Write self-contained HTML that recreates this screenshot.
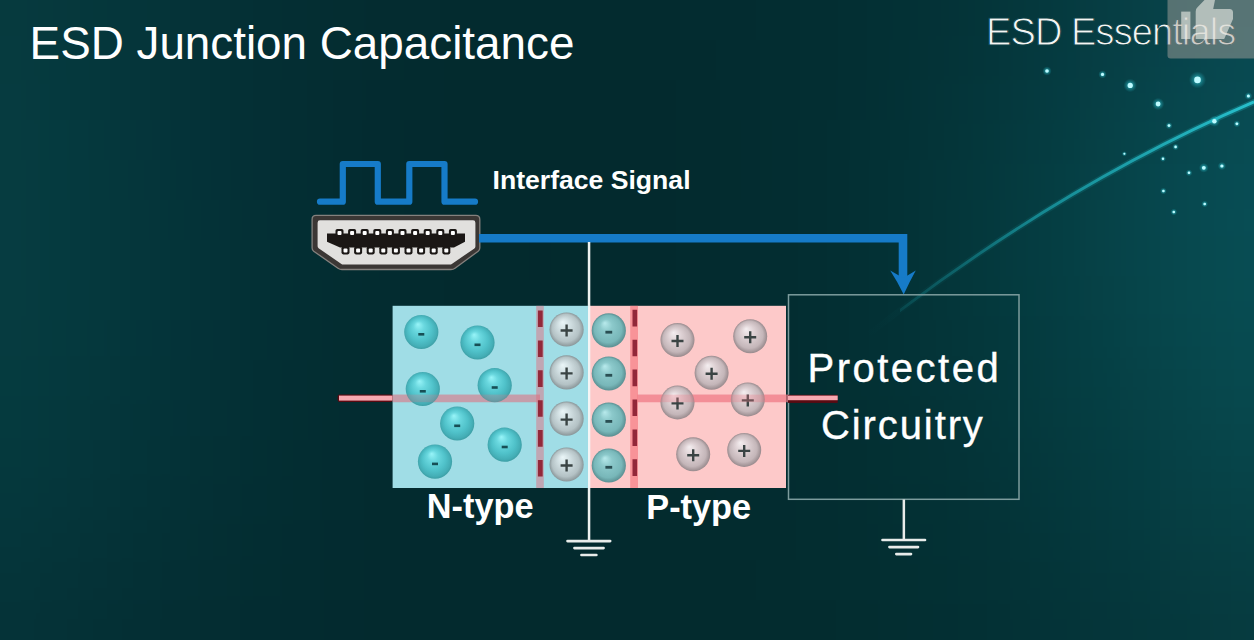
<!DOCTYPE html>
<html><head><meta charset="utf-8">
<style>
html,body{margin:0;padding:0;background:#062a2e;}
body{width:1254px;height:640px;overflow:hidden;position:relative;}
svg{position:absolute;left:0;top:0;display:block;}
text{font-family:"Liberation Sans",sans-serif;}
</style></head><body>
<svg width="1254" height="640" viewBox="0 0 1254 640">
<defs>
  <linearGradient id="bgH" x1="0" y1="0" x2="1" y2="0">
    <stop offset="0" stop-color="#0a3f43"/>
    <stop offset="0.12" stop-color="#07363a"/>
    <stop offset="0.3" stop-color="#042b2e"/>
    <stop offset="0.5" stop-color="#03252a"/>
    <stop offset="0.68" stop-color="#04282c"/>
    <stop offset="0.85" stop-color="#073a3f"/>
    <stop offset="1" stop-color="#0a464b"/>
  </linearGradient>
  <radialGradient id="glowTR" cx="1254" cy="90" r="360" gradientUnits="userSpaceOnUse">
    <stop offset="0" stop-color="#0d5058" stop-opacity="0.55"/>
    <stop offset="1" stop-color="#0d5058" stop-opacity="0"/>
  </radialGradient>
  <radialGradient id="glowBR" cx="1254" cy="640" r="330" gradientUnits="userSpaceOnUse">
    <stop offset="0" stop-color="#0b4449" stop-opacity="0.4"/>
    <stop offset="1" stop-color="#0b4449" stop-opacity="0"/>
  </radialGradient>
  <radialGradient id="glowL" cx="0" cy="330" r="260" gradientUnits="userSpaceOnUse" gradientTransform="translate(0 330) scale(1 1.6) translate(0 -330)">
    <stop offset="0" stop-color="#0c4649" stop-opacity="0.5"/>
    <stop offset="1" stop-color="#0c4649" stop-opacity="0"/>
  </radialGradient>
  <radialGradient id="darkC" cx="620" cy="330" r="420" gradientUnits="userSpaceOnUse">
    <stop offset="0" stop-color="#021e22" stop-opacity="0.35"/>
    <stop offset="1" stop-color="#021e22" stop-opacity="0"/>
  </radialGradient>
  <radialGradient id="elec" cx="0.5" cy="0.5" r="0.52" fx="0.4" fy="0.27">
    <stop offset="0" stop-color="#98f4f8"/>
    <stop offset="0.3" stop-color="#6ad8df"/>
    <stop offset="0.65" stop-color="#50c2ca"/>
    <stop offset="0.88" stop-color="#44aeb6"/>
    <stop offset="1" stop-color="#3a9aa0"/>
  </radialGradient>
  <radialGradient id="elecP" cx="0.5" cy="0.5" r="0.5" fx="0.38" fy="0.28">
    <stop offset="0" stop-color="#b8eaec"/>
    <stop offset="0.35" stop-color="#8cc9cb"/>
    <stop offset="0.8" stop-color="#78b7b9"/>
    <stop offset="1" stop-color="#5a8f92"/>
  </radialGradient>
  <radialGradient id="ion" cx="0.5" cy="0.5" r="0.5" fx="0.38" fy="0.28">
    <stop offset="0" stop-color="#eaf6f8"/>
    <stop offset="0.4" stop-color="#cfdde0"/>
    <stop offset="0.8" stop-color="#b4c2c5"/>
    <stop offset="1" stop-color="#8a9699"/>
  </radialGradient>
  <radialGradient id="hole" cx="0.5" cy="0.5" r="0.5" fx="0.38" fy="0.28">
    <stop offset="0" stop-color="#f4eef0"/>
    <stop offset="0.4" stop-color="#ddd0d3"/>
    <stop offset="0.8" stop-color="#c4b6b9"/>
    <stop offset="1" stop-color="#988a8d"/>
  </radialGradient>
  <linearGradient id="arcG" x1="866" y1="336" x2="1254" y2="102" gradientUnits="userSpaceOnUse">
    <stop offset="0" stop-color="#15858e" stop-opacity="0"/>
    <stop offset="0.15" stop-color="#15858e" stop-opacity="0.35"/>
    <stop offset="0.45" stop-color="#1a9aa4" stop-opacity="0.75"/>
    <stop offset="1" stop-color="#28c0cc" stop-opacity="1"/>
  </linearGradient>
  <radialGradient id="glow" cx="0.5" cy="0.5" r="0.5">
    <stop offset="0" stop-color="#5ee8f0" stop-opacity="0.9"/>
    <stop offset="0.5" stop-color="#2cc0cc" stop-opacity="0.42"/>
    <stop offset="1" stop-color="#20a8b4" stop-opacity="0"/>
  </radialGradient>
  <linearGradient id="arcG2" x1="866" y1="336" x2="1254" y2="102" gradientUnits="userSpaceOnUse">
    <stop offset="0" stop-color="#18a0aa" stop-opacity="0"/>
    <stop offset="0.4" stop-color="#18a0aa" stop-opacity="0.12"/>
    <stop offset="1" stop-color="#20b8c4" stop-opacity="0.3"/>
  </linearGradient>
</defs>

<!-- background -->
<filter id="bgblur" color-interpolation-filters="sRGB" x="-300" y="-300" width="1854" height="1240" filterUnits="userSpaceOnUse"><feGaussianBlur stdDeviation="28"/></filter>
<g filter="url(#bgblur)" shape-rendering="crispEdges"><rect x="-240" y="-240" width="40" height="40" fill="#063a3e"/><rect x="-200" y="-240" width="40" height="40" fill="#063a3e"/><rect x="-160" y="-240" width="40" height="40" fill="#063a3e"/><rect x="-120" y="-240" width="40" height="40" fill="#063a3e"/><rect x="-80" y="-240" width="40" height="40" fill="#063a3e"/><rect x="-40" y="-240" width="40" height="40" fill="#063a3e"/><rect x="0" y="-240" width="40" height="40" fill="#063a3e"/><rect x="40" y="-240" width="40" height="40" fill="#06383d"/><rect x="80" y="-240" width="40" height="40" fill="#05363b"/><rect x="120" y="-240" width="40" height="40" fill="#05353a"/><rect x="160" y="-240" width="40" height="40" fill="#053338"/><rect x="200" y="-240" width="40" height="40" fill="#053136"/><rect x="240" y="-240" width="40" height="40" fill="#043034"/><rect x="280" y="-240" width="40" height="40" fill="#042e33"/><rect x="320" y="-240" width="40" height="40" fill="#042d32"/><rect x="360" y="-240" width="40" height="40" fill="#042c31"/><rect x="400" y="-240" width="40" height="40" fill="#042c30"/><rect x="440" y="-240" width="40" height="40" fill="#032c2f"/><rect x="480" y="-240" width="40" height="40" fill="#032b2f"/><rect x="520" y="-240" width="40" height="40" fill="#032b2f"/><rect x="560" y="-240" width="40" height="40" fill="#032b2f"/><rect x="600" y="-240" width="40" height="40" fill="#032c2f"/><rect x="640" y="-240" width="40" height="40" fill="#032c2f"/><rect x="680" y="-240" width="40" height="40" fill="#032c30"/><rect x="720" y="-240" width="40" height="40" fill="#032d30"/><rect x="760" y="-240" width="40" height="40" fill="#032d31"/><rect x="800" y="-240" width="40" height="40" fill="#032e32"/><rect x="840" y="-240" width="40" height="40" fill="#032f33"/><rect x="880" y="-240" width="40" height="40" fill="#043035"/><rect x="920" y="-240" width="40" height="40" fill="#043237"/><rect x="960" y="-240" width="40" height="40" fill="#043439"/><rect x="1000" y="-240" width="40" height="40" fill="#05373c"/><rect x="1040" y="-240" width="40" height="40" fill="#05393f"/><rect x="1080" y="-240" width="40" height="40" fill="#063c42"/><rect x="1120" y="-240" width="40" height="40" fill="#073f46"/><rect x="1160" y="-240" width="40" height="40" fill="#074249"/><rect x="1200" y="-240" width="40" height="40" fill="#08454d"/><rect x="1240" y="-240" width="40" height="40" fill="#08474f"/><rect x="1280" y="-240" width="40" height="40" fill="#08474f"/><rect x="1320" y="-240" width="40" height="40" fill="#08474f"/><rect x="1360" y="-240" width="40" height="40" fill="#08474f"/><rect x="1400" y="-240" width="40" height="40" fill="#08474f"/><rect x="1440" y="-240" width="40" height="40" fill="#08474f"/><rect x="1480" y="-240" width="40" height="40" fill="#08474f"/><rect x="-240" y="-200" width="40" height="40" fill="#063a3e"/><rect x="-200" y="-200" width="40" height="40" fill="#063a3e"/><rect x="-160" y="-200" width="40" height="40" fill="#063a3e"/><rect x="-120" y="-200" width="40" height="40" fill="#063a3e"/><rect x="-80" y="-200" width="40" height="40" fill="#063a3e"/><rect x="-40" y="-200" width="40" height="40" fill="#063a3e"/><rect x="0" y="-200" width="40" height="40" fill="#063a3e"/><rect x="40" y="-200" width="40" height="40" fill="#06383d"/><rect x="80" y="-200" width="40" height="40" fill="#05363b"/><rect x="120" y="-200" width="40" height="40" fill="#05353a"/><rect x="160" y="-200" width="40" height="40" fill="#053338"/><rect x="200" y="-200" width="40" height="40" fill="#053136"/><rect x="240" y="-200" width="40" height="40" fill="#043034"/><rect x="280" y="-200" width="40" height="40" fill="#042e33"/><rect x="320" y="-200" width="40" height="40" fill="#042d32"/><rect x="360" y="-200" width="40" height="40" fill="#042c31"/><rect x="400" y="-200" width="40" height="40" fill="#042c30"/><rect x="440" y="-200" width="40" height="40" fill="#032c2f"/><rect x="480" y="-200" width="40" height="40" fill="#032b2f"/><rect x="520" y="-200" width="40" height="40" fill="#032b2f"/><rect x="560" y="-200" width="40" height="40" fill="#032b2f"/><rect x="600" y="-200" width="40" height="40" fill="#032c2f"/><rect x="640" y="-200" width="40" height="40" fill="#032c2f"/><rect x="680" y="-200" width="40" height="40" fill="#032c30"/><rect x="720" y="-200" width="40" height="40" fill="#032d30"/><rect x="760" y="-200" width="40" height="40" fill="#032d31"/><rect x="800" y="-200" width="40" height="40" fill="#032e32"/><rect x="840" y="-200" width="40" height="40" fill="#032f33"/><rect x="880" y="-200" width="40" height="40" fill="#043035"/><rect x="920" y="-200" width="40" height="40" fill="#043237"/><rect x="960" y="-200" width="40" height="40" fill="#043439"/><rect x="1000" y="-200" width="40" height="40" fill="#05373c"/><rect x="1040" y="-200" width="40" height="40" fill="#05393f"/><rect x="1080" y="-200" width="40" height="40" fill="#063c42"/><rect x="1120" y="-200" width="40" height="40" fill="#073f46"/><rect x="1160" y="-200" width="40" height="40" fill="#074249"/><rect x="1200" y="-200" width="40" height="40" fill="#08454d"/><rect x="1240" y="-200" width="40" height="40" fill="#08474f"/><rect x="1280" y="-200" width="40" height="40" fill="#08474f"/><rect x="1320" y="-200" width="40" height="40" fill="#08474f"/><rect x="1360" y="-200" width="40" height="40" fill="#08474f"/><rect x="1400" y="-200" width="40" height="40" fill="#08474f"/><rect x="1440" y="-200" width="40" height="40" fill="#08474f"/><rect x="1480" y="-200" width="40" height="40" fill="#08474f"/><rect x="-240" y="-160" width="40" height="40" fill="#063a3e"/><rect x="-200" y="-160" width="40" height="40" fill="#063a3e"/><rect x="-160" y="-160" width="40" height="40" fill="#063a3e"/><rect x="-120" y="-160" width="40" height="40" fill="#063a3e"/><rect x="-80" y="-160" width="40" height="40" fill="#063a3e"/><rect x="-40" y="-160" width="40" height="40" fill="#063a3e"/><rect x="0" y="-160" width="40" height="40" fill="#063a3e"/><rect x="40" y="-160" width="40" height="40" fill="#06383d"/><rect x="80" y="-160" width="40" height="40" fill="#05363b"/><rect x="120" y="-160" width="40" height="40" fill="#05353a"/><rect x="160" y="-160" width="40" height="40" fill="#053338"/><rect x="200" y="-160" width="40" height="40" fill="#053136"/><rect x="240" y="-160" width="40" height="40" fill="#043034"/><rect x="280" y="-160" width="40" height="40" fill="#042e33"/><rect x="320" y="-160" width="40" height="40" fill="#042d32"/><rect x="360" y="-160" width="40" height="40" fill="#042c31"/><rect x="400" y="-160" width="40" height="40" fill="#042c30"/><rect x="440" y="-160" width="40" height="40" fill="#032c2f"/><rect x="480" y="-160" width="40" height="40" fill="#032b2f"/><rect x="520" y="-160" width="40" height="40" fill="#032b2f"/><rect x="560" y="-160" width="40" height="40" fill="#032b2f"/><rect x="600" y="-160" width="40" height="40" fill="#032c2f"/><rect x="640" y="-160" width="40" height="40" fill="#032c2f"/><rect x="680" y="-160" width="40" height="40" fill="#032c30"/><rect x="720" y="-160" width="40" height="40" fill="#032d30"/><rect x="760" y="-160" width="40" height="40" fill="#032d31"/><rect x="800" y="-160" width="40" height="40" fill="#032e32"/><rect x="840" y="-160" width="40" height="40" fill="#032f33"/><rect x="880" y="-160" width="40" height="40" fill="#043035"/><rect x="920" y="-160" width="40" height="40" fill="#043237"/><rect x="960" y="-160" width="40" height="40" fill="#043439"/><rect x="1000" y="-160" width="40" height="40" fill="#05373c"/><rect x="1040" y="-160" width="40" height="40" fill="#05393f"/><rect x="1080" y="-160" width="40" height="40" fill="#063c42"/><rect x="1120" y="-160" width="40" height="40" fill="#073f46"/><rect x="1160" y="-160" width="40" height="40" fill="#074249"/><rect x="1200" y="-160" width="40" height="40" fill="#08454d"/><rect x="1240" y="-160" width="40" height="40" fill="#08474f"/><rect x="1280" y="-160" width="40" height="40" fill="#08474f"/><rect x="1320" y="-160" width="40" height="40" fill="#08474f"/><rect x="1360" y="-160" width="40" height="40" fill="#08474f"/><rect x="1400" y="-160" width="40" height="40" fill="#08474f"/><rect x="1440" y="-160" width="40" height="40" fill="#08474f"/><rect x="1480" y="-160" width="40" height="40" fill="#08474f"/><rect x="-240" y="-120" width="40" height="40" fill="#063a3e"/><rect x="-200" y="-120" width="40" height="40" fill="#063a3e"/><rect x="-160" y="-120" width="40" height="40" fill="#063a3e"/><rect x="-120" y="-120" width="40" height="40" fill="#063a3e"/><rect x="-80" y="-120" width="40" height="40" fill="#063a3e"/><rect x="-40" y="-120" width="40" height="40" fill="#063a3e"/><rect x="0" y="-120" width="40" height="40" fill="#063a3e"/><rect x="40" y="-120" width="40" height="40" fill="#06383d"/><rect x="80" y="-120" width="40" height="40" fill="#05363b"/><rect x="120" y="-120" width="40" height="40" fill="#05353a"/><rect x="160" y="-120" width="40" height="40" fill="#053338"/><rect x="200" y="-120" width="40" height="40" fill="#053136"/><rect x="240" y="-120" width="40" height="40" fill="#043034"/><rect x="280" y="-120" width="40" height="40" fill="#042e33"/><rect x="320" y="-120" width="40" height="40" fill="#042d32"/><rect x="360" y="-120" width="40" height="40" fill="#042c31"/><rect x="400" y="-120" width="40" height="40" fill="#042c30"/><rect x="440" y="-120" width="40" height="40" fill="#032c2f"/><rect x="480" y="-120" width="40" height="40" fill="#032b2f"/><rect x="520" y="-120" width="40" height="40" fill="#032b2f"/><rect x="560" y="-120" width="40" height="40" fill="#032b2f"/><rect x="600" y="-120" width="40" height="40" fill="#032c2f"/><rect x="640" y="-120" width="40" height="40" fill="#032c2f"/><rect x="680" y="-120" width="40" height="40" fill="#032c30"/><rect x="720" y="-120" width="40" height="40" fill="#032d30"/><rect x="760" y="-120" width="40" height="40" fill="#032d31"/><rect x="800" y="-120" width="40" height="40" fill="#032e32"/><rect x="840" y="-120" width="40" height="40" fill="#032f33"/><rect x="880" y="-120" width="40" height="40" fill="#043035"/><rect x="920" y="-120" width="40" height="40" fill="#043237"/><rect x="960" y="-120" width="40" height="40" fill="#043439"/><rect x="1000" y="-120" width="40" height="40" fill="#05373c"/><rect x="1040" y="-120" width="40" height="40" fill="#05393f"/><rect x="1080" y="-120" width="40" height="40" fill="#063c42"/><rect x="1120" y="-120" width="40" height="40" fill="#073f46"/><rect x="1160" y="-120" width="40" height="40" fill="#074249"/><rect x="1200" y="-120" width="40" height="40" fill="#08454d"/><rect x="1240" y="-120" width="40" height="40" fill="#08474f"/><rect x="1280" y="-120" width="40" height="40" fill="#08474f"/><rect x="1320" y="-120" width="40" height="40" fill="#08474f"/><rect x="1360" y="-120" width="40" height="40" fill="#08474f"/><rect x="1400" y="-120" width="40" height="40" fill="#08474f"/><rect x="1440" y="-120" width="40" height="40" fill="#08474f"/><rect x="1480" y="-120" width="40" height="40" fill="#08474f"/><rect x="-240" y="-80" width="40" height="40" fill="#063a3e"/><rect x="-200" y="-80" width="40" height="40" fill="#063a3e"/><rect x="-160" y="-80" width="40" height="40" fill="#063a3e"/><rect x="-120" y="-80" width="40" height="40" fill="#063a3e"/><rect x="-80" y="-80" width="40" height="40" fill="#063a3e"/><rect x="-40" y="-80" width="40" height="40" fill="#063a3e"/><rect x="0" y="-80" width="40" height="40" fill="#063a3e"/><rect x="40" y="-80" width="40" height="40" fill="#06383d"/><rect x="80" y="-80" width="40" height="40" fill="#05363b"/><rect x="120" y="-80" width="40" height="40" fill="#05353a"/><rect x="160" y="-80" width="40" height="40" fill="#053338"/><rect x="200" y="-80" width="40" height="40" fill="#053136"/><rect x="240" y="-80" width="40" height="40" fill="#043034"/><rect x="280" y="-80" width="40" height="40" fill="#042e33"/><rect x="320" y="-80" width="40" height="40" fill="#042d32"/><rect x="360" y="-80" width="40" height="40" fill="#042c31"/><rect x="400" y="-80" width="40" height="40" fill="#042c30"/><rect x="440" y="-80" width="40" height="40" fill="#032c2f"/><rect x="480" y="-80" width="40" height="40" fill="#032b2f"/><rect x="520" y="-80" width="40" height="40" fill="#032b2f"/><rect x="560" y="-80" width="40" height="40" fill="#032b2f"/><rect x="600" y="-80" width="40" height="40" fill="#032c2f"/><rect x="640" y="-80" width="40" height="40" fill="#032c2f"/><rect x="680" y="-80" width="40" height="40" fill="#032c30"/><rect x="720" y="-80" width="40" height="40" fill="#032d30"/><rect x="760" y="-80" width="40" height="40" fill="#032d31"/><rect x="800" y="-80" width="40" height="40" fill="#032e32"/><rect x="840" y="-80" width="40" height="40" fill="#032f33"/><rect x="880" y="-80" width="40" height="40" fill="#043035"/><rect x="920" y="-80" width="40" height="40" fill="#043237"/><rect x="960" y="-80" width="40" height="40" fill="#043439"/><rect x="1000" y="-80" width="40" height="40" fill="#05373c"/><rect x="1040" y="-80" width="40" height="40" fill="#05393f"/><rect x="1080" y="-80" width="40" height="40" fill="#063c42"/><rect x="1120" y="-80" width="40" height="40" fill="#073f46"/><rect x="1160" y="-80" width="40" height="40" fill="#074249"/><rect x="1200" y="-80" width="40" height="40" fill="#08454d"/><rect x="1240" y="-80" width="40" height="40" fill="#08474f"/><rect x="1280" y="-80" width="40" height="40" fill="#08474f"/><rect x="1320" y="-80" width="40" height="40" fill="#08474f"/><rect x="1360" y="-80" width="40" height="40" fill="#08474f"/><rect x="1400" y="-80" width="40" height="40" fill="#08474f"/><rect x="1440" y="-80" width="40" height="40" fill="#08474f"/><rect x="1480" y="-80" width="40" height="40" fill="#08474f"/><rect x="-240" y="-40" width="40" height="40" fill="#063a3e"/><rect x="-200" y="-40" width="40" height="40" fill="#063a3e"/><rect x="-160" y="-40" width="40" height="40" fill="#063a3e"/><rect x="-120" y="-40" width="40" height="40" fill="#063a3e"/><rect x="-80" y="-40" width="40" height="40" fill="#063a3e"/><rect x="-40" y="-40" width="40" height="40" fill="#063a3e"/><rect x="0" y="-40" width="40" height="40" fill="#063a3e"/><rect x="40" y="-40" width="40" height="40" fill="#06383d"/><rect x="80" y="-40" width="40" height="40" fill="#05363b"/><rect x="120" y="-40" width="40" height="40" fill="#05353a"/><rect x="160" y="-40" width="40" height="40" fill="#053338"/><rect x="200" y="-40" width="40" height="40" fill="#053136"/><rect x="240" y="-40" width="40" height="40" fill="#043034"/><rect x="280" y="-40" width="40" height="40" fill="#042e33"/><rect x="320" y="-40" width="40" height="40" fill="#042d32"/><rect x="360" y="-40" width="40" height="40" fill="#042c31"/><rect x="400" y="-40" width="40" height="40" fill="#042c30"/><rect x="440" y="-40" width="40" height="40" fill="#032c2f"/><rect x="480" y="-40" width="40" height="40" fill="#032b2f"/><rect x="520" y="-40" width="40" height="40" fill="#032b2f"/><rect x="560" y="-40" width="40" height="40" fill="#032b2f"/><rect x="600" y="-40" width="40" height="40" fill="#032c2f"/><rect x="640" y="-40" width="40" height="40" fill="#032c2f"/><rect x="680" y="-40" width="40" height="40" fill="#032c30"/><rect x="720" y="-40" width="40" height="40" fill="#032d30"/><rect x="760" y="-40" width="40" height="40" fill="#032d31"/><rect x="800" y="-40" width="40" height="40" fill="#032e32"/><rect x="840" y="-40" width="40" height="40" fill="#032f33"/><rect x="880" y="-40" width="40" height="40" fill="#043035"/><rect x="920" y="-40" width="40" height="40" fill="#043237"/><rect x="960" y="-40" width="40" height="40" fill="#043439"/><rect x="1000" y="-40" width="40" height="40" fill="#05373c"/><rect x="1040" y="-40" width="40" height="40" fill="#05393f"/><rect x="1080" y="-40" width="40" height="40" fill="#063c42"/><rect x="1120" y="-40" width="40" height="40" fill="#073f46"/><rect x="1160" y="-40" width="40" height="40" fill="#074249"/><rect x="1200" y="-40" width="40" height="40" fill="#08454d"/><rect x="1240" y="-40" width="40" height="40" fill="#08474f"/><rect x="1280" y="-40" width="40" height="40" fill="#08474f"/><rect x="1320" y="-40" width="40" height="40" fill="#08474f"/><rect x="1360" y="-40" width="40" height="40" fill="#08474f"/><rect x="1400" y="-40" width="40" height="40" fill="#08474f"/><rect x="1440" y="-40" width="40" height="40" fill="#08474f"/><rect x="1480" y="-40" width="40" height="40" fill="#08474f"/><rect x="-240" y="0" width="40" height="40" fill="#063b3f"/><rect x="-200" y="0" width="40" height="40" fill="#063b3f"/><rect x="-160" y="0" width="40" height="40" fill="#063b3f"/><rect x="-120" y="0" width="40" height="40" fill="#063b3f"/><rect x="-80" y="0" width="40" height="40" fill="#063b3f"/><rect x="-40" y="0" width="40" height="40" fill="#063b3f"/><rect x="0" y="0" width="40" height="40" fill="#063a3e"/><rect x="40" y="0" width="40" height="40" fill="#06383d"/><rect x="80" y="0" width="40" height="40" fill="#05373b"/><rect x="120" y="0" width="40" height="40" fill="#05353a"/><rect x="160" y="0" width="40" height="40" fill="#053338"/><rect x="200" y="0" width="40" height="40" fill="#053136"/><rect x="240" y="0" width="40" height="40" fill="#042f34"/><rect x="280" y="0" width="40" height="40" fill="#042e33"/><rect x="320" y="0" width="40" height="40" fill="#042d31"/><rect x="360" y="0" width="40" height="40" fill="#042c30"/><rect x="400" y="0" width="40" height="40" fill="#042c30"/><rect x="440" y="0" width="40" height="40" fill="#032b2f"/><rect x="480" y="0" width="40" height="40" fill="#032b2f"/><rect x="520" y="0" width="40" height="40" fill="#032b2f"/><rect x="560" y="0" width="40" height="40" fill="#032b2f"/><rect x="600" y="0" width="40" height="40" fill="#032b2f"/><rect x="640" y="0" width="40" height="40" fill="#032b2f"/><rect x="680" y="0" width="40" height="40" fill="#032c30"/><rect x="720" y="0" width="40" height="40" fill="#032c30"/><rect x="760" y="0" width="40" height="40" fill="#032d31"/><rect x="800" y="0" width="40" height="40" fill="#032e32"/><rect x="840" y="0" width="40" height="40" fill="#032f33"/><rect x="880" y="0" width="40" height="40" fill="#033135"/><rect x="920" y="0" width="40" height="40" fill="#043237"/><rect x="960" y="0" width="40" height="40" fill="#043539"/><rect x="1000" y="0" width="40" height="40" fill="#05373c"/><rect x="1040" y="0" width="40" height="40" fill="#053a3f"/><rect x="1080" y="0" width="40" height="40" fill="#063d43"/><rect x="1120" y="0" width="40" height="40" fill="#074046"/><rect x="1160" y="0" width="40" height="40" fill="#07434a"/><rect x="1200" y="0" width="40" height="40" fill="#08464d"/><rect x="1240" y="0" width="40" height="40" fill="#084850"/><rect x="1280" y="0" width="40" height="40" fill="#084850"/><rect x="1320" y="0" width="40" height="40" fill="#084850"/><rect x="1360" y="0" width="40" height="40" fill="#084850"/><rect x="1400" y="0" width="40" height="40" fill="#084850"/><rect x="1440" y="0" width="40" height="40" fill="#084850"/><rect x="1480" y="0" width="40" height="40" fill="#084850"/><rect x="-240" y="40" width="40" height="40" fill="#063b3f"/><rect x="-200" y="40" width="40" height="40" fill="#063b3f"/><rect x="-160" y="40" width="40" height="40" fill="#063b3f"/><rect x="-120" y="40" width="40" height="40" fill="#063b3f"/><rect x="-80" y="40" width="40" height="40" fill="#063b3f"/><rect x="-40" y="40" width="40" height="40" fill="#063b3f"/><rect x="0" y="40" width="40" height="40" fill="#063b3f"/><rect x="40" y="40" width="40" height="40" fill="#05393e"/><rect x="80" y="40" width="40" height="40" fill="#05373c"/><rect x="120" y="40" width="40" height="40" fill="#05353a"/><rect x="160" y="40" width="40" height="40" fill="#053338"/><rect x="200" y="40" width="40" height="40" fill="#043136"/><rect x="240" y="40" width="40" height="40" fill="#042f34"/><rect x="280" y="40" width="40" height="40" fill="#042e33"/><rect x="320" y="40" width="40" height="40" fill="#042d31"/><rect x="360" y="40" width="40" height="40" fill="#042c30"/><rect x="400" y="40" width="40" height="40" fill="#032b2f"/><rect x="440" y="40" width="40" height="40" fill="#032b2e"/><rect x="480" y="40" width="40" height="40" fill="#032a2e"/><rect x="520" y="40" width="40" height="40" fill="#032a2e"/><rect x="560" y="40" width="40" height="40" fill="#032a2e"/><rect x="600" y="40" width="40" height="40" fill="#032b2e"/><rect x="640" y="40" width="40" height="40" fill="#032b2f"/><rect x="680" y="40" width="40" height="40" fill="#032b2f"/><rect x="720" y="40" width="40" height="40" fill="#032c30"/><rect x="760" y="40" width="40" height="40" fill="#032d31"/><rect x="800" y="40" width="40" height="40" fill="#032e32"/><rect x="840" y="40" width="40" height="40" fill="#032f33"/><rect x="880" y="40" width="40" height="40" fill="#033135"/><rect x="920" y="40" width="40" height="40" fill="#043337"/><rect x="960" y="40" width="40" height="40" fill="#04353a"/><rect x="1000" y="40" width="40" height="40" fill="#05383d"/><rect x="1040" y="40" width="40" height="40" fill="#053b41"/><rect x="1080" y="40" width="40" height="40" fill="#063e44"/><rect x="1120" y="40" width="40" height="40" fill="#074148"/><rect x="1160" y="40" width="40" height="40" fill="#07444c"/><rect x="1200" y="40" width="40" height="40" fill="#08484f"/><rect x="1240" y="40" width="40" height="40" fill="#084a52"/><rect x="1280" y="40" width="40" height="40" fill="#084a52"/><rect x="1320" y="40" width="40" height="40" fill="#084a52"/><rect x="1360" y="40" width="40" height="40" fill="#084a52"/><rect x="1400" y="40" width="40" height="40" fill="#084a52"/><rect x="1440" y="40" width="40" height="40" fill="#084a52"/><rect x="1480" y="40" width="40" height="40" fill="#084a52"/><rect x="-240" y="80" width="40" height="40" fill="#063c40"/><rect x="-200" y="80" width="40" height="40" fill="#063c40"/><rect x="-160" y="80" width="40" height="40" fill="#063c40"/><rect x="-120" y="80" width="40" height="40" fill="#063c40"/><rect x="-80" y="80" width="40" height="40" fill="#063c40"/><rect x="-40" y="80" width="40" height="40" fill="#063c40"/><rect x="0" y="80" width="40" height="40" fill="#063b40"/><rect x="40" y="80" width="40" height="40" fill="#05393e"/><rect x="80" y="80" width="40" height="40" fill="#05373c"/><rect x="120" y="80" width="40" height="40" fill="#05353a"/><rect x="160" y="80" width="40" height="40" fill="#053338"/><rect x="200" y="80" width="40" height="40" fill="#043136"/><rect x="240" y="80" width="40" height="40" fill="#042f34"/><rect x="280" y="80" width="40" height="40" fill="#042e33"/><rect x="320" y="80" width="40" height="40" fill="#042c31"/><rect x="360" y="80" width="40" height="40" fill="#032b30"/><rect x="400" y="80" width="40" height="40" fill="#032b2f"/><rect x="440" y="80" width="40" height="40" fill="#032a2e"/><rect x="480" y="80" width="40" height="40" fill="#032a2e"/><rect x="520" y="80" width="40" height="40" fill="#032a2e"/><rect x="560" y="80" width="40" height="40" fill="#032a2e"/><rect x="600" y="80" width="40" height="40" fill="#032a2e"/><rect x="640" y="80" width="40" height="40" fill="#032a2e"/><rect x="680" y="80" width="40" height="40" fill="#032b2f"/><rect x="720" y="80" width="40" height="40" fill="#032c30"/><rect x="760" y="80" width="40" height="40" fill="#032d31"/><rect x="800" y="80" width="40" height="40" fill="#032e32"/><rect x="840" y="80" width="40" height="40" fill="#032f33"/><rect x="880" y="80" width="40" height="40" fill="#033136"/><rect x="920" y="80" width="40" height="40" fill="#043438"/><rect x="960" y="80" width="40" height="40" fill="#04363b"/><rect x="1000" y="80" width="40" height="40" fill="#05393e"/><rect x="1040" y="80" width="40" height="40" fill="#053c42"/><rect x="1080" y="80" width="40" height="40" fill="#063f45"/><rect x="1120" y="80" width="40" height="40" fill="#064349"/><rect x="1160" y="80" width="40" height="40" fill="#07464d"/><rect x="1200" y="80" width="40" height="40" fill="#084950"/><rect x="1240" y="80" width="40" height="40" fill="#084b53"/><rect x="1280" y="80" width="40" height="40" fill="#084b53"/><rect x="1320" y="80" width="40" height="40" fill="#084b53"/><rect x="1360" y="80" width="40" height="40" fill="#084b53"/><rect x="1400" y="80" width="40" height="40" fill="#084b53"/><rect x="1440" y="80" width="40" height="40" fill="#084b53"/><rect x="1480" y="80" width="40" height="40" fill="#084b53"/><rect x="-240" y="120" width="40" height="40" fill="#063c41"/><rect x="-200" y="120" width="40" height="40" fill="#063c41"/><rect x="-160" y="120" width="40" height="40" fill="#063c41"/><rect x="-120" y="120" width="40" height="40" fill="#063c41"/><rect x="-80" y="120" width="40" height="40" fill="#063c41"/><rect x="-40" y="120" width="40" height="40" fill="#063c41"/><rect x="0" y="120" width="40" height="40" fill="#063c40"/><rect x="40" y="120" width="40" height="40" fill="#053a3f"/><rect x="80" y="120" width="40" height="40" fill="#05383d"/><rect x="120" y="120" width="40" height="40" fill="#05353b"/><rect x="160" y="120" width="40" height="40" fill="#043339"/><rect x="200" y="120" width="40" height="40" fill="#043137"/><rect x="240" y="120" width="40" height="40" fill="#042f35"/><rect x="280" y="120" width="40" height="40" fill="#042e33"/><rect x="320" y="120" width="40" height="40" fill="#032c31"/><rect x="360" y="120" width="40" height="40" fill="#032b30"/><rect x="400" y="120" width="40" height="40" fill="#032a2f"/><rect x="440" y="120" width="40" height="40" fill="#032a2e"/><rect x="480" y="120" width="40" height="40" fill="#032a2e"/><rect x="520" y="120" width="40" height="40" fill="#032a2d"/><rect x="560" y="120" width="40" height="40" fill="#032a2d"/><rect x="600" y="120" width="40" height="40" fill="#032a2e"/><rect x="640" y="120" width="40" height="40" fill="#032a2e"/><rect x="680" y="120" width="40" height="40" fill="#032b2f"/><rect x="720" y="120" width="40" height="40" fill="#032c2f"/><rect x="760" y="120" width="40" height="40" fill="#032d31"/><rect x="800" y="120" width="40" height="40" fill="#032e32"/><rect x="840" y="120" width="40" height="40" fill="#033034"/><rect x="880" y="120" width="40" height="40" fill="#033236"/><rect x="920" y="120" width="40" height="40" fill="#043438"/><rect x="960" y="120" width="40" height="40" fill="#04373b"/><rect x="1000" y="120" width="40" height="40" fill="#053a3f"/><rect x="1040" y="120" width="40" height="40" fill="#053d42"/><rect x="1080" y="120" width="40" height="40" fill="#064146"/><rect x="1120" y="120" width="40" height="40" fill="#06444a"/><rect x="1160" y="120" width="40" height="40" fill="#07474e"/><rect x="1200" y="120" width="40" height="40" fill="#084a51"/><rect x="1240" y="120" width="40" height="40" fill="#084d54"/><rect x="1280" y="120" width="40" height="40" fill="#084d54"/><rect x="1320" y="120" width="40" height="40" fill="#084d54"/><rect x="1360" y="120" width="40" height="40" fill="#084d54"/><rect x="1400" y="120" width="40" height="40" fill="#084d54"/><rect x="1440" y="120" width="40" height="40" fill="#084d54"/><rect x="1480" y="120" width="40" height="40" fill="#084d54"/><rect x="-240" y="160" width="40" height="40" fill="#063d41"/><rect x="-200" y="160" width="40" height="40" fill="#063d41"/><rect x="-160" y="160" width="40" height="40" fill="#063d41"/><rect x="-120" y="160" width="40" height="40" fill="#063d41"/><rect x="-80" y="160" width="40" height="40" fill="#063d41"/><rect x="-40" y="160" width="40" height="40" fill="#063d41"/><rect x="0" y="160" width="40" height="40" fill="#063c40"/><rect x="40" y="160" width="40" height="40" fill="#053a3f"/><rect x="80" y="160" width="40" height="40" fill="#05383d"/><rect x="120" y="160" width="40" height="40" fill="#05363b"/><rect x="160" y="160" width="40" height="40" fill="#043339"/><rect x="200" y="160" width="40" height="40" fill="#043137"/><rect x="240" y="160" width="40" height="40" fill="#042f35"/><rect x="280" y="160" width="40" height="40" fill="#032e33"/><rect x="320" y="160" width="40" height="40" fill="#032c31"/><rect x="360" y="160" width="40" height="40" fill="#032b30"/><rect x="400" y="160" width="40" height="40" fill="#032a2f"/><rect x="440" y="160" width="40" height="40" fill="#032a2e"/><rect x="480" y="160" width="40" height="40" fill="#032a2e"/><rect x="520" y="160" width="40" height="40" fill="#03292d"/><rect x="560" y="160" width="40" height="40" fill="#03292d"/><rect x="600" y="160" width="40" height="40" fill="#032a2e"/><rect x="640" y="160" width="40" height="40" fill="#032a2e"/><rect x="680" y="160" width="40" height="40" fill="#032b2f"/><rect x="720" y="160" width="40" height="40" fill="#032c2f"/><rect x="760" y="160" width="40" height="40" fill="#032d31"/><rect x="800" y="160" width="40" height="40" fill="#032e32"/><rect x="840" y="160" width="40" height="40" fill="#033034"/><rect x="880" y="160" width="40" height="40" fill="#033236"/><rect x="920" y="160" width="40" height="40" fill="#043539"/><rect x="960" y="160" width="40" height="40" fill="#04373c"/><rect x="1000" y="160" width="40" height="40" fill="#053b3f"/><rect x="1040" y="160" width="40" height="40" fill="#053e43"/><rect x="1080" y="160" width="40" height="40" fill="#064147"/><rect x="1120" y="160" width="40" height="40" fill="#06454b"/><rect x="1160" y="160" width="40" height="40" fill="#07484f"/><rect x="1200" y="160" width="40" height="40" fill="#074b52"/><rect x="1240" y="160" width="40" height="40" fill="#084d55"/><rect x="1280" y="160" width="40" height="40" fill="#084d55"/><rect x="1320" y="160" width="40" height="40" fill="#084d55"/><rect x="1360" y="160" width="40" height="40" fill="#084d55"/><rect x="1400" y="160" width="40" height="40" fill="#084d55"/><rect x="1440" y="160" width="40" height="40" fill="#084d55"/><rect x="1480" y="160" width="40" height="40" fill="#084d55"/><rect x="-240" y="200" width="40" height="40" fill="#063d41"/><rect x="-200" y="200" width="40" height="40" fill="#063d41"/><rect x="-160" y="200" width="40" height="40" fill="#063d41"/><rect x="-120" y="200" width="40" height="40" fill="#063d41"/><rect x="-80" y="200" width="40" height="40" fill="#063d41"/><rect x="-40" y="200" width="40" height="40" fill="#063d41"/><rect x="0" y="200" width="40" height="40" fill="#063c41"/><rect x="40" y="200" width="40" height="40" fill="#053a3f"/><rect x="80" y="200" width="40" height="40" fill="#05383d"/><rect x="120" y="200" width="40" height="40" fill="#05363b"/><rect x="160" y="200" width="40" height="40" fill="#043439"/><rect x="200" y="200" width="40" height="40" fill="#043137"/><rect x="240" y="200" width="40" height="40" fill="#043035"/><rect x="280" y="200" width="40" height="40" fill="#032e33"/><rect x="320" y="200" width="40" height="40" fill="#032c31"/><rect x="360" y="200" width="40" height="40" fill="#032b30"/><rect x="400" y="200" width="40" height="40" fill="#032a2f"/><rect x="440" y="200" width="40" height="40" fill="#032a2e"/><rect x="480" y="200" width="40" height="40" fill="#032a2e"/><rect x="520" y="200" width="40" height="40" fill="#03292d"/><rect x="560" y="200" width="40" height="40" fill="#03292d"/><rect x="600" y="200" width="40" height="40" fill="#032a2e"/><rect x="640" y="200" width="40" height="40" fill="#032a2e"/><rect x="680" y="200" width="40" height="40" fill="#032b2f"/><rect x="720" y="200" width="40" height="40" fill="#032c30"/><rect x="760" y="200" width="40" height="40" fill="#032d31"/><rect x="800" y="200" width="40" height="40" fill="#032e32"/><rect x="840" y="200" width="40" height="40" fill="#033034"/><rect x="880" y="200" width="40" height="40" fill="#033236"/><rect x="920" y="200" width="40" height="40" fill="#043539"/><rect x="960" y="200" width="40" height="40" fill="#04383c"/><rect x="1000" y="200" width="40" height="40" fill="#053b40"/><rect x="1040" y="200" width="40" height="40" fill="#053e43"/><rect x="1080" y="200" width="40" height="40" fill="#064247"/><rect x="1120" y="200" width="40" height="40" fill="#06454b"/><rect x="1160" y="200" width="40" height="40" fill="#07484f"/><rect x="1200" y="200" width="40" height="40" fill="#074b52"/><rect x="1240" y="200" width="40" height="40" fill="#084e55"/><rect x="1280" y="200" width="40" height="40" fill="#084e55"/><rect x="1320" y="200" width="40" height="40" fill="#084e55"/><rect x="1360" y="200" width="40" height="40" fill="#084e55"/><rect x="1400" y="200" width="40" height="40" fill="#084e55"/><rect x="1440" y="200" width="40" height="40" fill="#084e55"/><rect x="1480" y="200" width="40" height="40" fill="#084e55"/><rect x="-240" y="240" width="40" height="40" fill="#063d41"/><rect x="-200" y="240" width="40" height="40" fill="#063d41"/><rect x="-160" y="240" width="40" height="40" fill="#063d41"/><rect x="-120" y="240" width="40" height="40" fill="#063d41"/><rect x="-80" y="240" width="40" height="40" fill="#063d41"/><rect x="-40" y="240" width="40" height="40" fill="#063d41"/><rect x="0" y="240" width="40" height="40" fill="#063c41"/><rect x="40" y="240" width="40" height="40" fill="#053a3f"/><rect x="80" y="240" width="40" height="40" fill="#05383d"/><rect x="120" y="240" width="40" height="40" fill="#05363b"/><rect x="160" y="240" width="40" height="40" fill="#043439"/><rect x="200" y="240" width="40" height="40" fill="#043237"/><rect x="240" y="240" width="40" height="40" fill="#043035"/><rect x="280" y="240" width="40" height="40" fill="#032e33"/><rect x="320" y="240" width="40" height="40" fill="#032d31"/><rect x="360" y="240" width="40" height="40" fill="#032b30"/><rect x="400" y="240" width="40" height="40" fill="#032b2f"/><rect x="440" y="240" width="40" height="40" fill="#032a2e"/><rect x="480" y="240" width="40" height="40" fill="#032a2e"/><rect x="520" y="240" width="40" height="40" fill="#03292d"/><rect x="560" y="240" width="40" height="40" fill="#032a2d"/><rect x="600" y="240" width="40" height="40" fill="#032a2e"/><rect x="640" y="240" width="40" height="40" fill="#032a2e"/><rect x="680" y="240" width="40" height="40" fill="#032b2f"/><rect x="720" y="240" width="40" height="40" fill="#032c30"/><rect x="760" y="240" width="40" height="40" fill="#032d31"/><rect x="800" y="240" width="40" height="40" fill="#032e32"/><rect x="840" y="240" width="40" height="40" fill="#033034"/><rect x="880" y="240" width="40" height="40" fill="#033236"/><rect x="920" y="240" width="40" height="40" fill="#043539"/><rect x="960" y="240" width="40" height="40" fill="#04383c"/><rect x="1000" y="240" width="40" height="40" fill="#053b40"/><rect x="1040" y="240" width="40" height="40" fill="#053e43"/><rect x="1080" y="240" width="40" height="40" fill="#064247"/><rect x="1120" y="240" width="40" height="40" fill="#06454b"/><rect x="1160" y="240" width="40" height="40" fill="#07484e"/><rect x="1200" y="240" width="40" height="40" fill="#074b51"/><rect x="1240" y="240" width="40" height="40" fill="#084d54"/><rect x="1280" y="240" width="40" height="40" fill="#084d54"/><rect x="1320" y="240" width="40" height="40" fill="#084d54"/><rect x="1360" y="240" width="40" height="40" fill="#084d54"/><rect x="1400" y="240" width="40" height="40" fill="#084d54"/><rect x="1440" y="240" width="40" height="40" fill="#084d54"/><rect x="1480" y="240" width="40" height="40" fill="#084d54"/><rect x="-240" y="280" width="40" height="40" fill="#063d41"/><rect x="-200" y="280" width="40" height="40" fill="#063d41"/><rect x="-160" y="280" width="40" height="40" fill="#063d41"/><rect x="-120" y="280" width="40" height="40" fill="#063d41"/><rect x="-80" y="280" width="40" height="40" fill="#063d41"/><rect x="-40" y="280" width="40" height="40" fill="#063d41"/><rect x="0" y="280" width="40" height="40" fill="#063c40"/><rect x="40" y="280" width="40" height="40" fill="#053a3f"/><rect x="80" y="280" width="40" height="40" fill="#05383d"/><rect x="120" y="280" width="40" height="40" fill="#04363b"/><rect x="160" y="280" width="40" height="40" fill="#043439"/><rect x="200" y="280" width="40" height="40" fill="#043237"/><rect x="240" y="280" width="40" height="40" fill="#033035"/><rect x="280" y="280" width="40" height="40" fill="#032e33"/><rect x="320" y="280" width="40" height="40" fill="#032d31"/><rect x="360" y="280" width="40" height="40" fill="#032c30"/><rect x="400" y="280" width="40" height="40" fill="#032b2f"/><rect x="440" y="280" width="40" height="40" fill="#032a2e"/><rect x="480" y="280" width="40" height="40" fill="#032a2e"/><rect x="520" y="280" width="40" height="40" fill="#032a2e"/><rect x="560" y="280" width="40" height="40" fill="#032a2e"/><rect x="600" y="280" width="40" height="40" fill="#032a2e"/><rect x="640" y="280" width="40" height="40" fill="#032a2e"/><rect x="680" y="280" width="40" height="40" fill="#032b2f"/><rect x="720" y="280" width="40" height="40" fill="#032c30"/><rect x="760" y="280" width="40" height="40" fill="#032d31"/><rect x="800" y="280" width="40" height="40" fill="#032e32"/><rect x="840" y="280" width="40" height="40" fill="#033034"/><rect x="880" y="280" width="40" height="40" fill="#033236"/><rect x="920" y="280" width="40" height="40" fill="#043539"/><rect x="960" y="280" width="40" height="40" fill="#04383c"/><rect x="1000" y="280" width="40" height="40" fill="#043b3f"/><rect x="1040" y="280" width="40" height="40" fill="#053e43"/><rect x="1080" y="280" width="40" height="40" fill="#064146"/><rect x="1120" y="280" width="40" height="40" fill="#06454a"/><rect x="1160" y="280" width="40" height="40" fill="#07484d"/><rect x="1200" y="280" width="40" height="40" fill="#074b50"/><rect x="1240" y="280" width="40" height="40" fill="#074d53"/><rect x="1280" y="280" width="40" height="40" fill="#074d53"/><rect x="1320" y="280" width="40" height="40" fill="#074d53"/><rect x="1360" y="280" width="40" height="40" fill="#074d53"/><rect x="1400" y="280" width="40" height="40" fill="#074d53"/><rect x="1440" y="280" width="40" height="40" fill="#074d53"/><rect x="1480" y="280" width="40" height="40" fill="#074d53"/><rect x="-240" y="320" width="40" height="40" fill="#063c40"/><rect x="-200" y="320" width="40" height="40" fill="#063c40"/><rect x="-160" y="320" width="40" height="40" fill="#063c40"/><rect x="-120" y="320" width="40" height="40" fill="#063c40"/><rect x="-80" y="320" width="40" height="40" fill="#063c40"/><rect x="-40" y="320" width="40" height="40" fill="#063c40"/><rect x="0" y="320" width="40" height="40" fill="#063b40"/><rect x="40" y="320" width="40" height="40" fill="#053a3e"/><rect x="80" y="320" width="40" height="40" fill="#05383d"/><rect x="120" y="320" width="40" height="40" fill="#04353b"/><rect x="160" y="320" width="40" height="40" fill="#043339"/><rect x="200" y="320" width="40" height="40" fill="#043137"/><rect x="240" y="320" width="40" height="40" fill="#033035"/><rect x="280" y="320" width="40" height="40" fill="#032e33"/><rect x="320" y="320" width="40" height="40" fill="#032d31"/><rect x="360" y="320" width="40" height="40" fill="#032c30"/><rect x="400" y="320" width="40" height="40" fill="#032b2f"/><rect x="440" y="320" width="40" height="40" fill="#032a2e"/><rect x="480" y="320" width="40" height="40" fill="#032a2e"/><rect x="520" y="320" width="40" height="40" fill="#032a2e"/><rect x="560" y="320" width="40" height="40" fill="#032a2e"/><rect x="600" y="320" width="40" height="40" fill="#032a2e"/><rect x="640" y="320" width="40" height="40" fill="#032a2e"/><rect x="680" y="320" width="40" height="40" fill="#032b2f"/><rect x="720" y="320" width="40" height="40" fill="#032c30"/><rect x="760" y="320" width="40" height="40" fill="#032d31"/><rect x="800" y="320" width="40" height="40" fill="#032e32"/><rect x="840" y="320" width="40" height="40" fill="#033034"/><rect x="880" y="320" width="40" height="40" fill="#033236"/><rect x="920" y="320" width="40" height="40" fill="#043539"/><rect x="960" y="320" width="40" height="40" fill="#04373b"/><rect x="1000" y="320" width="40" height="40" fill="#043a3e"/><rect x="1040" y="320" width="40" height="40" fill="#053d42"/><rect x="1080" y="320" width="40" height="40" fill="#054045"/><rect x="1120" y="320" width="40" height="40" fill="#064449"/><rect x="1160" y="320" width="40" height="40" fill="#06474c"/><rect x="1200" y="320" width="40" height="40" fill="#07494f"/><rect x="1240" y="320" width="40" height="40" fill="#074b51"/><rect x="1280" y="320" width="40" height="40" fill="#074b51"/><rect x="1320" y="320" width="40" height="40" fill="#074b51"/><rect x="1360" y="320" width="40" height="40" fill="#074b51"/><rect x="1400" y="320" width="40" height="40" fill="#074b51"/><rect x="1440" y="320" width="40" height="40" fill="#074b51"/><rect x="1480" y="320" width="40" height="40" fill="#074b51"/><rect x="-240" y="360" width="40" height="40" fill="#063b40"/><rect x="-200" y="360" width="40" height="40" fill="#063b40"/><rect x="-160" y="360" width="40" height="40" fill="#063b40"/><rect x="-120" y="360" width="40" height="40" fill="#063b40"/><rect x="-80" y="360" width="40" height="40" fill="#063b40"/><rect x="-40" y="360" width="40" height="40" fill="#063b40"/><rect x="0" y="360" width="40" height="40" fill="#053b3f"/><rect x="40" y="360" width="40" height="40" fill="#05393e"/><rect x="80" y="360" width="40" height="40" fill="#05373c"/><rect x="120" y="360" width="40" height="40" fill="#04353a"/><rect x="160" y="360" width="40" height="40" fill="#043338"/><rect x="200" y="360" width="40" height="40" fill="#043136"/><rect x="240" y="360" width="40" height="40" fill="#032f34"/><rect x="280" y="360" width="40" height="40" fill="#032e33"/><rect x="320" y="360" width="40" height="40" fill="#032d31"/><rect x="360" y="360" width="40" height="40" fill="#032c30"/><rect x="400" y="360" width="40" height="40" fill="#032b2f"/><rect x="440" y="360" width="40" height="40" fill="#032a2e"/><rect x="480" y="360" width="40" height="40" fill="#032a2e"/><rect x="520" y="360" width="40" height="40" fill="#032a2e"/><rect x="560" y="360" width="40" height="40" fill="#032a2e"/><rect x="600" y="360" width="40" height="40" fill="#032a2e"/><rect x="640" y="360" width="40" height="40" fill="#032a2e"/><rect x="680" y="360" width="40" height="40" fill="#032b2f"/><rect x="720" y="360" width="40" height="40" fill="#032c2f"/><rect x="760" y="360" width="40" height="40" fill="#032d30"/><rect x="800" y="360" width="40" height="40" fill="#032e32"/><rect x="840" y="360" width="40" height="40" fill="#033033"/><rect x="880" y="360" width="40" height="40" fill="#033236"/><rect x="920" y="360" width="40" height="40" fill="#043438"/><rect x="960" y="360" width="40" height="40" fill="#04363b"/><rect x="1000" y="360" width="40" height="40" fill="#04393d"/><rect x="1040" y="360" width="40" height="40" fill="#053c41"/><rect x="1080" y="360" width="40" height="40" fill="#053f44"/><rect x="1120" y="360" width="40" height="40" fill="#064247"/><rect x="1160" y="360" width="40" height="40" fill="#06454a"/><rect x="1200" y="360" width="40" height="40" fill="#07484d"/><rect x="1240" y="360" width="40" height="40" fill="#074a4f"/><rect x="1280" y="360" width="40" height="40" fill="#074a4f"/><rect x="1320" y="360" width="40" height="40" fill="#074a4f"/><rect x="1360" y="360" width="40" height="40" fill="#074a4f"/><rect x="1400" y="360" width="40" height="40" fill="#074a4f"/><rect x="1440" y="360" width="40" height="40" fill="#074a4f"/><rect x="1480" y="360" width="40" height="40" fill="#074a4f"/><rect x="-240" y="400" width="40" height="40" fill="#063a3f"/><rect x="-200" y="400" width="40" height="40" fill="#063a3f"/><rect x="-160" y="400" width="40" height="40" fill="#063a3f"/><rect x="-120" y="400" width="40" height="40" fill="#063a3f"/><rect x="-80" y="400" width="40" height="40" fill="#063a3f"/><rect x="-40" y="400" width="40" height="40" fill="#063a3f"/><rect x="0" y="400" width="40" height="40" fill="#053a3e"/><rect x="40" y="400" width="40" height="40" fill="#05383d"/><rect x="80" y="400" width="40" height="40" fill="#05363b"/><rect x="120" y="400" width="40" height="40" fill="#043439"/><rect x="160" y="400" width="40" height="40" fill="#043238"/><rect x="200" y="400" width="40" height="40" fill="#043136"/><rect x="240" y="400" width="40" height="40" fill="#032f34"/><rect x="280" y="400" width="40" height="40" fill="#032e32"/><rect x="320" y="400" width="40" height="40" fill="#032c31"/><rect x="360" y="400" width="40" height="40" fill="#032c30"/><rect x="400" y="400" width="40" height="40" fill="#032b2f"/><rect x="440" y="400" width="40" height="40" fill="#032a2e"/><rect x="480" y="400" width="40" height="40" fill="#032a2e"/><rect x="520" y="400" width="40" height="40" fill="#032a2e"/><rect x="560" y="400" width="40" height="40" fill="#032a2e"/><rect x="600" y="400" width="40" height="40" fill="#032a2e"/><rect x="640" y="400" width="40" height="40" fill="#032b2e"/><rect x="680" y="400" width="40" height="40" fill="#032b2f"/><rect x="720" y="400" width="40" height="40" fill="#032c2f"/><rect x="760" y="400" width="40" height="40" fill="#032d30"/><rect x="800" y="400" width="40" height="40" fill="#032e31"/><rect x="840" y="400" width="40" height="40" fill="#032f33"/><rect x="880" y="400" width="40" height="40" fill="#033135"/><rect x="920" y="400" width="40" height="40" fill="#043337"/><rect x="960" y="400" width="40" height="40" fill="#04363a"/><rect x="1000" y="400" width="40" height="40" fill="#04383c"/><rect x="1040" y="400" width="40" height="40" fill="#053b3f"/><rect x="1080" y="400" width="40" height="40" fill="#053e42"/><rect x="1120" y="400" width="40" height="40" fill="#064045"/><rect x="1160" y="400" width="40" height="40" fill="#064348"/><rect x="1200" y="400" width="40" height="40" fill="#07464b"/><rect x="1240" y="400" width="40" height="40" fill="#07484d"/><rect x="1280" y="400" width="40" height="40" fill="#07484d"/><rect x="1320" y="400" width="40" height="40" fill="#07484d"/><rect x="1360" y="400" width="40" height="40" fill="#07484d"/><rect x="1400" y="400" width="40" height="40" fill="#07484d"/><rect x="1440" y="400" width="40" height="40" fill="#07484d"/><rect x="1480" y="400" width="40" height="40" fill="#07484d"/><rect x="-240" y="440" width="40" height="40" fill="#06393e"/><rect x="-200" y="440" width="40" height="40" fill="#06393e"/><rect x="-160" y="440" width="40" height="40" fill="#06393e"/><rect x="-120" y="440" width="40" height="40" fill="#06393e"/><rect x="-80" y="440" width="40" height="40" fill="#06393e"/><rect x="-40" y="440" width="40" height="40" fill="#06393e"/><rect x="0" y="440" width="40" height="40" fill="#05393d"/><rect x="40" y="440" width="40" height="40" fill="#05373c"/><rect x="80" y="440" width="40" height="40" fill="#05353a"/><rect x="120" y="440" width="40" height="40" fill="#043439"/><rect x="160" y="440" width="40" height="40" fill="#043237"/><rect x="200" y="440" width="40" height="40" fill="#043035"/><rect x="240" y="440" width="40" height="40" fill="#032f33"/><rect x="280" y="440" width="40" height="40" fill="#032d32"/><rect x="320" y="440" width="40" height="40" fill="#032c31"/><rect x="360" y="440" width="40" height="40" fill="#032b30"/><rect x="400" y="440" width="40" height="40" fill="#032b2f"/><rect x="440" y="440" width="40" height="40" fill="#032a2e"/><rect x="480" y="440" width="40" height="40" fill="#032a2e"/><rect x="520" y="440" width="40" height="40" fill="#032a2e"/><rect x="560" y="440" width="40" height="40" fill="#032a2e"/><rect x="600" y="440" width="40" height="40" fill="#032a2e"/><rect x="640" y="440" width="40" height="40" fill="#032b2e"/><rect x="680" y="440" width="40" height="40" fill="#032b2f"/><rect x="720" y="440" width="40" height="40" fill="#032c2f"/><rect x="760" y="440" width="40" height="40" fill="#032d30"/><rect x="800" y="440" width="40" height="40" fill="#032e31"/><rect x="840" y="440" width="40" height="40" fill="#032f32"/><rect x="880" y="440" width="40" height="40" fill="#033134"/><rect x="920" y="440" width="40" height="40" fill="#043236"/><rect x="960" y="440" width="40" height="40" fill="#043438"/><rect x="1000" y="440" width="40" height="40" fill="#04373b"/><rect x="1040" y="440" width="40" height="40" fill="#05393e"/><rect x="1080" y="440" width="40" height="40" fill="#053c40"/><rect x="1120" y="440" width="40" height="40" fill="#053e43"/><rect x="1160" y="440" width="40" height="40" fill="#064146"/><rect x="1200" y="440" width="40" height="40" fill="#064348"/><rect x="1240" y="440" width="40" height="40" fill="#07454a"/><rect x="1280" y="440" width="40" height="40" fill="#07454a"/><rect x="1320" y="440" width="40" height="40" fill="#07454a"/><rect x="1360" y="440" width="40" height="40" fill="#07454a"/><rect x="1400" y="440" width="40" height="40" fill="#07454a"/><rect x="1440" y="440" width="40" height="40" fill="#07454a"/><rect x="1480" y="440" width="40" height="40" fill="#07454a"/><rect x="-240" y="480" width="40" height="40" fill="#05383c"/><rect x="-200" y="480" width="40" height="40" fill="#05383c"/><rect x="-160" y="480" width="40" height="40" fill="#05383c"/><rect x="-120" y="480" width="40" height="40" fill="#05383c"/><rect x="-80" y="480" width="40" height="40" fill="#05383c"/><rect x="-40" y="480" width="40" height="40" fill="#05383c"/><rect x="0" y="480" width="40" height="40" fill="#05373c"/><rect x="40" y="480" width="40" height="40" fill="#05363b"/><rect x="80" y="480" width="40" height="40" fill="#053439"/><rect x="120" y="480" width="40" height="40" fill="#043338"/><rect x="160" y="480" width="40" height="40" fill="#043136"/><rect x="200" y="480" width="40" height="40" fill="#042f34"/><rect x="240" y="480" width="40" height="40" fill="#032e33"/><rect x="280" y="480" width="40" height="40" fill="#032d31"/><rect x="320" y="480" width="40" height="40" fill="#032c30"/><rect x="360" y="480" width="40" height="40" fill="#032b2f"/><rect x="400" y="480" width="40" height="40" fill="#032b2f"/><rect x="440" y="480" width="40" height="40" fill="#032a2e"/><rect x="480" y="480" width="40" height="40" fill="#032a2e"/><rect x="520" y="480" width="40" height="40" fill="#032a2e"/><rect x="560" y="480" width="40" height="40" fill="#032a2e"/><rect x="600" y="480" width="40" height="40" fill="#032a2e"/><rect x="640" y="480" width="40" height="40" fill="#032b2e"/><rect x="680" y="480" width="40" height="40" fill="#032b2e"/><rect x="720" y="480" width="40" height="40" fill="#032c2f"/><rect x="760" y="480" width="40" height="40" fill="#032c30"/><rect x="800" y="480" width="40" height="40" fill="#032d31"/><rect x="840" y="480" width="40" height="40" fill="#032e32"/><rect x="880" y="480" width="40" height="40" fill="#033033"/><rect x="920" y="480" width="40" height="40" fill="#033135"/><rect x="960" y="480" width="40" height="40" fill="#043337"/><rect x="1000" y="480" width="40" height="40" fill="#04353a"/><rect x="1040" y="480" width="40" height="40" fill="#04383c"/><rect x="1080" y="480" width="40" height="40" fill="#053a3f"/><rect x="1120" y="480" width="40" height="40" fill="#053c41"/><rect x="1160" y="480" width="40" height="40" fill="#063f44"/><rect x="1200" y="480" width="40" height="40" fill="#064146"/><rect x="1240" y="480" width="40" height="40" fill="#074348"/><rect x="1280" y="480" width="40" height="40" fill="#074348"/><rect x="1320" y="480" width="40" height="40" fill="#074348"/><rect x="1360" y="480" width="40" height="40" fill="#074348"/><rect x="1400" y="480" width="40" height="40" fill="#074348"/><rect x="1440" y="480" width="40" height="40" fill="#074348"/><rect x="1480" y="480" width="40" height="40" fill="#074348"/><rect x="-240" y="520" width="40" height="40" fill="#05363b"/><rect x="-200" y="520" width="40" height="40" fill="#05363b"/><rect x="-160" y="520" width="40" height="40" fill="#05363b"/><rect x="-120" y="520" width="40" height="40" fill="#05363b"/><rect x="-80" y="520" width="40" height="40" fill="#05363b"/><rect x="-40" y="520" width="40" height="40" fill="#05363b"/><rect x="0" y="520" width="40" height="40" fill="#05363b"/><rect x="40" y="520" width="40" height="40" fill="#053439"/><rect x="80" y="520" width="40" height="40" fill="#053338"/><rect x="120" y="520" width="40" height="40" fill="#043136"/><rect x="160" y="520" width="40" height="40" fill="#043035"/><rect x="200" y="520" width="40" height="40" fill="#042f33"/><rect x="240" y="520" width="40" height="40" fill="#032d32"/><rect x="280" y="520" width="40" height="40" fill="#032c31"/><rect x="320" y="520" width="40" height="40" fill="#032b30"/><rect x="360" y="520" width="40" height="40" fill="#032b2f"/><rect x="400" y="520" width="40" height="40" fill="#032a2f"/><rect x="440" y="520" width="40" height="40" fill="#032a2e"/><rect x="480" y="520" width="40" height="40" fill="#032a2e"/><rect x="520" y="520" width="40" height="40" fill="#032a2e"/><rect x="560" y="520" width="40" height="40" fill="#032a2e"/><rect x="600" y="520" width="40" height="40" fill="#032a2e"/><rect x="640" y="520" width="40" height="40" fill="#032b2e"/><rect x="680" y="520" width="40" height="40" fill="#032b2e"/><rect x="720" y="520" width="40" height="40" fill="#032c2f"/><rect x="760" y="520" width="40" height="40" fill="#032c2f"/><rect x="800" y="520" width="40" height="40" fill="#032d30"/><rect x="840" y="520" width="40" height="40" fill="#032e31"/><rect x="880" y="520" width="40" height="40" fill="#032f33"/><rect x="920" y="520" width="40" height="40" fill="#033134"/><rect x="960" y="520" width="40" height="40" fill="#043236"/><rect x="1000" y="520" width="40" height="40" fill="#043438"/><rect x="1040" y="520" width="40" height="40" fill="#04363a"/><rect x="1080" y="520" width="40" height="40" fill="#05383d"/><rect x="1120" y="520" width="40" height="40" fill="#053a3f"/><rect x="1160" y="520" width="40" height="40" fill="#063d41"/><rect x="1200" y="520" width="40" height="40" fill="#063f43"/><rect x="1240" y="520" width="40" height="40" fill="#064045"/><rect x="1280" y="520" width="40" height="40" fill="#064045"/><rect x="1320" y="520" width="40" height="40" fill="#064045"/><rect x="1360" y="520" width="40" height="40" fill="#064045"/><rect x="1400" y="520" width="40" height="40" fill="#064045"/><rect x="1440" y="520" width="40" height="40" fill="#064045"/><rect x="1480" y="520" width="40" height="40" fill="#064045"/><rect x="-240" y="560" width="40" height="40" fill="#05353a"/><rect x="-200" y="560" width="40" height="40" fill="#05353a"/><rect x="-160" y="560" width="40" height="40" fill="#05353a"/><rect x="-120" y="560" width="40" height="40" fill="#05353a"/><rect x="-80" y="560" width="40" height="40" fill="#05353a"/><rect x="-40" y="560" width="40" height="40" fill="#05353a"/><rect x="0" y="560" width="40" height="40" fill="#053439"/><rect x="40" y="560" width="40" height="40" fill="#053338"/><rect x="80" y="560" width="40" height="40" fill="#053237"/><rect x="120" y="560" width="40" height="40" fill="#043035"/><rect x="160" y="560" width="40" height="40" fill="#042f34"/><rect x="200" y="560" width="40" height="40" fill="#042e33"/><rect x="240" y="560" width="40" height="40" fill="#032d31"/><rect x="280" y="560" width="40" height="40" fill="#032c30"/><rect x="320" y="560" width="40" height="40" fill="#032b2f"/><rect x="360" y="560" width="40" height="40" fill="#032a2f"/><rect x="400" y="560" width="40" height="40" fill="#032a2e"/><rect x="440" y="560" width="40" height="40" fill="#032a2e"/><rect x="480" y="560" width="40" height="40" fill="#032a2e"/><rect x="520" y="560" width="40" height="40" fill="#032a2e"/><rect x="560" y="560" width="40" height="40" fill="#032a2e"/><rect x="600" y="560" width="40" height="40" fill="#032a2e"/><rect x="640" y="560" width="40" height="40" fill="#032b2e"/><rect x="680" y="560" width="40" height="40" fill="#032b2e"/><rect x="720" y="560" width="40" height="40" fill="#032b2e"/><rect x="760" y="560" width="40" height="40" fill="#032c2f"/><rect x="800" y="560" width="40" height="40" fill="#032d30"/><rect x="840" y="560" width="40" height="40" fill="#032e31"/><rect x="880" y="560" width="40" height="40" fill="#032f32"/><rect x="920" y="560" width="40" height="40" fill="#033033"/><rect x="960" y="560" width="40" height="40" fill="#043135"/><rect x="1000" y="560" width="40" height="40" fill="#043337"/><rect x="1040" y="560" width="40" height="40" fill="#043539"/><rect x="1080" y="560" width="40" height="40" fill="#05363b"/><rect x="1120" y="560" width="40" height="40" fill="#05383d"/><rect x="1160" y="560" width="40" height="40" fill="#063a3f"/><rect x="1200" y="560" width="40" height="40" fill="#063c41"/><rect x="1240" y="560" width="40" height="40" fill="#063e43"/><rect x="1280" y="560" width="40" height="40" fill="#063e43"/><rect x="1320" y="560" width="40" height="40" fill="#063e43"/><rect x="1360" y="560" width="40" height="40" fill="#063e43"/><rect x="1400" y="560" width="40" height="40" fill="#063e43"/><rect x="1440" y="560" width="40" height="40" fill="#063e43"/><rect x="1480" y="560" width="40" height="40" fill="#063e43"/><rect x="-240" y="600" width="40" height="40" fill="#053338"/><rect x="-200" y="600" width="40" height="40" fill="#053338"/><rect x="-160" y="600" width="40" height="40" fill="#053338"/><rect x="-120" y="600" width="40" height="40" fill="#053338"/><rect x="-80" y="600" width="40" height="40" fill="#053338"/><rect x="-40" y="600" width="40" height="40" fill="#053338"/><rect x="0" y="600" width="40" height="40" fill="#053338"/><rect x="40" y="600" width="40" height="40" fill="#053237"/><rect x="80" y="600" width="40" height="40" fill="#043035"/><rect x="120" y="600" width="40" height="40" fill="#042f34"/><rect x="160" y="600" width="40" height="40" fill="#042e33"/><rect x="200" y="600" width="40" height="40" fill="#042d32"/><rect x="240" y="600" width="40" height="40" fill="#032c31"/><rect x="280" y="600" width="40" height="40" fill="#032b30"/><rect x="320" y="600" width="40" height="40" fill="#032a2f"/><rect x="360" y="600" width="40" height="40" fill="#032a2e"/><rect x="400" y="600" width="40" height="40" fill="#032a2e"/><rect x="440" y="600" width="40" height="40" fill="#032a2e"/><rect x="480" y="600" width="40" height="40" fill="#032a2e"/><rect x="520" y="600" width="40" height="40" fill="#032a2d"/><rect x="560" y="600" width="40" height="40" fill="#032a2d"/><rect x="600" y="600" width="40" height="40" fill="#032a2e"/><rect x="640" y="600" width="40" height="40" fill="#032b2e"/><rect x="680" y="600" width="40" height="40" fill="#032b2e"/><rect x="720" y="600" width="40" height="40" fill="#032b2e"/><rect x="760" y="600" width="40" height="40" fill="#032c2f"/><rect x="800" y="600" width="40" height="40" fill="#032c2f"/><rect x="840" y="600" width="40" height="40" fill="#032d30"/><rect x="880" y="600" width="40" height="40" fill="#032e31"/><rect x="920" y="600" width="40" height="40" fill="#032f33"/><rect x="960" y="600" width="40" height="40" fill="#033034"/><rect x="1000" y="600" width="40" height="40" fill="#043236"/><rect x="1040" y="600" width="40" height="40" fill="#043338"/><rect x="1080" y="600" width="40" height="40" fill="#05353a"/><rect x="1120" y="600" width="40" height="40" fill="#05373b"/><rect x="1160" y="600" width="40" height="40" fill="#05383d"/><rect x="1200" y="600" width="40" height="40" fill="#063a3f"/><rect x="1240" y="600" width="40" height="40" fill="#063c40"/><rect x="1280" y="600" width="40" height="40" fill="#063c40"/><rect x="1320" y="600" width="40" height="40" fill="#063c40"/><rect x="1360" y="600" width="40" height="40" fill="#063c40"/><rect x="1400" y="600" width="40" height="40" fill="#063c40"/><rect x="1440" y="600" width="40" height="40" fill="#063c40"/><rect x="1480" y="600" width="40" height="40" fill="#063c40"/><rect x="-240" y="640" width="40" height="40" fill="#053237"/><rect x="-200" y="640" width="40" height="40" fill="#053237"/><rect x="-160" y="640" width="40" height="40" fill="#053237"/><rect x="-120" y="640" width="40" height="40" fill="#053237"/><rect x="-80" y="640" width="40" height="40" fill="#053237"/><rect x="-40" y="640" width="40" height="40" fill="#053237"/><rect x="0" y="640" width="40" height="40" fill="#053237"/><rect x="40" y="640" width="40" height="40" fill="#053136"/><rect x="80" y="640" width="40" height="40" fill="#043035"/><rect x="120" y="640" width="40" height="40" fill="#042e34"/><rect x="160" y="640" width="40" height="40" fill="#042d32"/><rect x="200" y="640" width="40" height="40" fill="#042c31"/><rect x="240" y="640" width="40" height="40" fill="#032b30"/><rect x="280" y="640" width="40" height="40" fill="#032b2f"/><rect x="320" y="640" width="40" height="40" fill="#032a2f"/><rect x="360" y="640" width="40" height="40" fill="#032a2e"/><rect x="400" y="640" width="40" height="40" fill="#032a2e"/><rect x="440" y="640" width="40" height="40" fill="#032a2e"/><rect x="480" y="640" width="40" height="40" fill="#032a2d"/><rect x="520" y="640" width="40" height="40" fill="#032a2d"/><rect x="560" y="640" width="40" height="40" fill="#032a2d"/><rect x="600" y="640" width="40" height="40" fill="#032a2d"/><rect x="640" y="640" width="40" height="40" fill="#032b2e"/><rect x="680" y="640" width="40" height="40" fill="#032b2e"/><rect x="720" y="640" width="40" height="40" fill="#032b2e"/><rect x="760" y="640" width="40" height="40" fill="#032c2f"/><rect x="800" y="640" width="40" height="40" fill="#032c2f"/><rect x="840" y="640" width="40" height="40" fill="#032d30"/><rect x="880" y="640" width="40" height="40" fill="#032e31"/><rect x="920" y="640" width="40" height="40" fill="#032f32"/><rect x="960" y="640" width="40" height="40" fill="#033034"/><rect x="1000" y="640" width="40" height="40" fill="#043135"/><rect x="1040" y="640" width="40" height="40" fill="#043337"/><rect x="1080" y="640" width="40" height="40" fill="#043439"/><rect x="1120" y="640" width="40" height="40" fill="#05363b"/><rect x="1160" y="640" width="40" height="40" fill="#05383c"/><rect x="1200" y="640" width="40" height="40" fill="#06393e"/><rect x="1240" y="640" width="40" height="40" fill="#063b3f"/><rect x="1280" y="640" width="40" height="40" fill="#063b3f"/><rect x="1320" y="640" width="40" height="40" fill="#063b3f"/><rect x="1360" y="640" width="40" height="40" fill="#063b3f"/><rect x="1400" y="640" width="40" height="40" fill="#063b3f"/><rect x="1440" y="640" width="40" height="40" fill="#063b3f"/><rect x="1480" y="640" width="40" height="40" fill="#063b3f"/><rect x="-240" y="680" width="40" height="40" fill="#053237"/><rect x="-200" y="680" width="40" height="40" fill="#053237"/><rect x="-160" y="680" width="40" height="40" fill="#053237"/><rect x="-120" y="680" width="40" height="40" fill="#053237"/><rect x="-80" y="680" width="40" height="40" fill="#053237"/><rect x="-40" y="680" width="40" height="40" fill="#053237"/><rect x="0" y="680" width="40" height="40" fill="#053237"/><rect x="40" y="680" width="40" height="40" fill="#053136"/><rect x="80" y="680" width="40" height="40" fill="#043035"/><rect x="120" y="680" width="40" height="40" fill="#042e34"/><rect x="160" y="680" width="40" height="40" fill="#042d32"/><rect x="200" y="680" width="40" height="40" fill="#042c31"/><rect x="240" y="680" width="40" height="40" fill="#032b30"/><rect x="280" y="680" width="40" height="40" fill="#032b2f"/><rect x="320" y="680" width="40" height="40" fill="#032a2f"/><rect x="360" y="680" width="40" height="40" fill="#032a2e"/><rect x="400" y="680" width="40" height="40" fill="#032a2e"/><rect x="440" y="680" width="40" height="40" fill="#032a2e"/><rect x="480" y="680" width="40" height="40" fill="#032a2d"/><rect x="520" y="680" width="40" height="40" fill="#032a2d"/><rect x="560" y="680" width="40" height="40" fill="#032a2d"/><rect x="600" y="680" width="40" height="40" fill="#032a2d"/><rect x="640" y="680" width="40" height="40" fill="#032b2e"/><rect x="680" y="680" width="40" height="40" fill="#032b2e"/><rect x="720" y="680" width="40" height="40" fill="#032b2e"/><rect x="760" y="680" width="40" height="40" fill="#032c2f"/><rect x="800" y="680" width="40" height="40" fill="#032c2f"/><rect x="840" y="680" width="40" height="40" fill="#032d30"/><rect x="880" y="680" width="40" height="40" fill="#032e31"/><rect x="920" y="680" width="40" height="40" fill="#032f32"/><rect x="960" y="680" width="40" height="40" fill="#033034"/><rect x="1000" y="680" width="40" height="40" fill="#043135"/><rect x="1040" y="680" width="40" height="40" fill="#043337"/><rect x="1080" y="680" width="40" height="40" fill="#043439"/><rect x="1120" y="680" width="40" height="40" fill="#05363b"/><rect x="1160" y="680" width="40" height="40" fill="#05383c"/><rect x="1200" y="680" width="40" height="40" fill="#06393e"/><rect x="1240" y="680" width="40" height="40" fill="#063b3f"/><rect x="1280" y="680" width="40" height="40" fill="#063b3f"/><rect x="1320" y="680" width="40" height="40" fill="#063b3f"/><rect x="1360" y="680" width="40" height="40" fill="#063b3f"/><rect x="1400" y="680" width="40" height="40" fill="#063b3f"/><rect x="1440" y="680" width="40" height="40" fill="#063b3f"/><rect x="1480" y="680" width="40" height="40" fill="#063b3f"/><rect x="-240" y="720" width="40" height="40" fill="#053237"/><rect x="-200" y="720" width="40" height="40" fill="#053237"/><rect x="-160" y="720" width="40" height="40" fill="#053237"/><rect x="-120" y="720" width="40" height="40" fill="#053237"/><rect x="-80" y="720" width="40" height="40" fill="#053237"/><rect x="-40" y="720" width="40" height="40" fill="#053237"/><rect x="0" y="720" width="40" height="40" fill="#053237"/><rect x="40" y="720" width="40" height="40" fill="#053136"/><rect x="80" y="720" width="40" height="40" fill="#043035"/><rect x="120" y="720" width="40" height="40" fill="#042e34"/><rect x="160" y="720" width="40" height="40" fill="#042d32"/><rect x="200" y="720" width="40" height="40" fill="#042c31"/><rect x="240" y="720" width="40" height="40" fill="#032b30"/><rect x="280" y="720" width="40" height="40" fill="#032b2f"/><rect x="320" y="720" width="40" height="40" fill="#032a2f"/><rect x="360" y="720" width="40" height="40" fill="#032a2e"/><rect x="400" y="720" width="40" height="40" fill="#032a2e"/><rect x="440" y="720" width="40" height="40" fill="#032a2e"/><rect x="480" y="720" width="40" height="40" fill="#032a2d"/><rect x="520" y="720" width="40" height="40" fill="#032a2d"/><rect x="560" y="720" width="40" height="40" fill="#032a2d"/><rect x="600" y="720" width="40" height="40" fill="#032a2d"/><rect x="640" y="720" width="40" height="40" fill="#032b2e"/><rect x="680" y="720" width="40" height="40" fill="#032b2e"/><rect x="720" y="720" width="40" height="40" fill="#032b2e"/><rect x="760" y="720" width="40" height="40" fill="#032c2f"/><rect x="800" y="720" width="40" height="40" fill="#032c2f"/><rect x="840" y="720" width="40" height="40" fill="#032d30"/><rect x="880" y="720" width="40" height="40" fill="#032e31"/><rect x="920" y="720" width="40" height="40" fill="#032f32"/><rect x="960" y="720" width="40" height="40" fill="#033034"/><rect x="1000" y="720" width="40" height="40" fill="#043135"/><rect x="1040" y="720" width="40" height="40" fill="#043337"/><rect x="1080" y="720" width="40" height="40" fill="#043439"/><rect x="1120" y="720" width="40" height="40" fill="#05363b"/><rect x="1160" y="720" width="40" height="40" fill="#05383c"/><rect x="1200" y="720" width="40" height="40" fill="#06393e"/><rect x="1240" y="720" width="40" height="40" fill="#063b3f"/><rect x="1280" y="720" width="40" height="40" fill="#063b3f"/><rect x="1320" y="720" width="40" height="40" fill="#063b3f"/><rect x="1360" y="720" width="40" height="40" fill="#063b3f"/><rect x="1400" y="720" width="40" height="40" fill="#063b3f"/><rect x="1440" y="720" width="40" height="40" fill="#063b3f"/><rect x="1480" y="720" width="40" height="40" fill="#063b3f"/><rect x="-240" y="760" width="40" height="40" fill="#053237"/><rect x="-200" y="760" width="40" height="40" fill="#053237"/><rect x="-160" y="760" width="40" height="40" fill="#053237"/><rect x="-120" y="760" width="40" height="40" fill="#053237"/><rect x="-80" y="760" width="40" height="40" fill="#053237"/><rect x="-40" y="760" width="40" height="40" fill="#053237"/><rect x="0" y="760" width="40" height="40" fill="#053237"/><rect x="40" y="760" width="40" height="40" fill="#053136"/><rect x="80" y="760" width="40" height="40" fill="#043035"/><rect x="120" y="760" width="40" height="40" fill="#042e34"/><rect x="160" y="760" width="40" height="40" fill="#042d32"/><rect x="200" y="760" width="40" height="40" fill="#042c31"/><rect x="240" y="760" width="40" height="40" fill="#032b30"/><rect x="280" y="760" width="40" height="40" fill="#032b2f"/><rect x="320" y="760" width="40" height="40" fill="#032a2f"/><rect x="360" y="760" width="40" height="40" fill="#032a2e"/><rect x="400" y="760" width="40" height="40" fill="#032a2e"/><rect x="440" y="760" width="40" height="40" fill="#032a2e"/><rect x="480" y="760" width="40" height="40" fill="#032a2d"/><rect x="520" y="760" width="40" height="40" fill="#032a2d"/><rect x="560" y="760" width="40" height="40" fill="#032a2d"/><rect x="600" y="760" width="40" height="40" fill="#032a2d"/><rect x="640" y="760" width="40" height="40" fill="#032b2e"/><rect x="680" y="760" width="40" height="40" fill="#032b2e"/><rect x="720" y="760" width="40" height="40" fill="#032b2e"/><rect x="760" y="760" width="40" height="40" fill="#032c2f"/><rect x="800" y="760" width="40" height="40" fill="#032c2f"/><rect x="840" y="760" width="40" height="40" fill="#032d30"/><rect x="880" y="760" width="40" height="40" fill="#032e31"/><rect x="920" y="760" width="40" height="40" fill="#032f32"/><rect x="960" y="760" width="40" height="40" fill="#033034"/><rect x="1000" y="760" width="40" height="40" fill="#043135"/><rect x="1040" y="760" width="40" height="40" fill="#043337"/><rect x="1080" y="760" width="40" height="40" fill="#043439"/><rect x="1120" y="760" width="40" height="40" fill="#05363b"/><rect x="1160" y="760" width="40" height="40" fill="#05383c"/><rect x="1200" y="760" width="40" height="40" fill="#06393e"/><rect x="1240" y="760" width="40" height="40" fill="#063b3f"/><rect x="1280" y="760" width="40" height="40" fill="#063b3f"/><rect x="1320" y="760" width="40" height="40" fill="#063b3f"/><rect x="1360" y="760" width="40" height="40" fill="#063b3f"/><rect x="1400" y="760" width="40" height="40" fill="#063b3f"/><rect x="1440" y="760" width="40" height="40" fill="#063b3f"/><rect x="1480" y="760" width="40" height="40" fill="#063b3f"/><rect x="-240" y="800" width="40" height="40" fill="#053237"/><rect x="-200" y="800" width="40" height="40" fill="#053237"/><rect x="-160" y="800" width="40" height="40" fill="#053237"/><rect x="-120" y="800" width="40" height="40" fill="#053237"/><rect x="-80" y="800" width="40" height="40" fill="#053237"/><rect x="-40" y="800" width="40" height="40" fill="#053237"/><rect x="0" y="800" width="40" height="40" fill="#053237"/><rect x="40" y="800" width="40" height="40" fill="#053136"/><rect x="80" y="800" width="40" height="40" fill="#043035"/><rect x="120" y="800" width="40" height="40" fill="#042e34"/><rect x="160" y="800" width="40" height="40" fill="#042d32"/><rect x="200" y="800" width="40" height="40" fill="#042c31"/><rect x="240" y="800" width="40" height="40" fill="#032b30"/><rect x="280" y="800" width="40" height="40" fill="#032b2f"/><rect x="320" y="800" width="40" height="40" fill="#032a2f"/><rect x="360" y="800" width="40" height="40" fill="#032a2e"/><rect x="400" y="800" width="40" height="40" fill="#032a2e"/><rect x="440" y="800" width="40" height="40" fill="#032a2e"/><rect x="480" y="800" width="40" height="40" fill="#032a2d"/><rect x="520" y="800" width="40" height="40" fill="#032a2d"/><rect x="560" y="800" width="40" height="40" fill="#032a2d"/><rect x="600" y="800" width="40" height="40" fill="#032a2d"/><rect x="640" y="800" width="40" height="40" fill="#032b2e"/><rect x="680" y="800" width="40" height="40" fill="#032b2e"/><rect x="720" y="800" width="40" height="40" fill="#032b2e"/><rect x="760" y="800" width="40" height="40" fill="#032c2f"/><rect x="800" y="800" width="40" height="40" fill="#032c2f"/><rect x="840" y="800" width="40" height="40" fill="#032d30"/><rect x="880" y="800" width="40" height="40" fill="#032e31"/><rect x="920" y="800" width="40" height="40" fill="#032f32"/><rect x="960" y="800" width="40" height="40" fill="#033034"/><rect x="1000" y="800" width="40" height="40" fill="#043135"/><rect x="1040" y="800" width="40" height="40" fill="#043337"/><rect x="1080" y="800" width="40" height="40" fill="#043439"/><rect x="1120" y="800" width="40" height="40" fill="#05363b"/><rect x="1160" y="800" width="40" height="40" fill="#05383c"/><rect x="1200" y="800" width="40" height="40" fill="#06393e"/><rect x="1240" y="800" width="40" height="40" fill="#063b3f"/><rect x="1280" y="800" width="40" height="40" fill="#063b3f"/><rect x="1320" y="800" width="40" height="40" fill="#063b3f"/><rect x="1360" y="800" width="40" height="40" fill="#063b3f"/><rect x="1400" y="800" width="40" height="40" fill="#063b3f"/><rect x="1440" y="800" width="40" height="40" fill="#063b3f"/><rect x="1480" y="800" width="40" height="40" fill="#063b3f"/><rect x="-240" y="840" width="40" height="40" fill="#053237"/><rect x="-200" y="840" width="40" height="40" fill="#053237"/><rect x="-160" y="840" width="40" height="40" fill="#053237"/><rect x="-120" y="840" width="40" height="40" fill="#053237"/><rect x="-80" y="840" width="40" height="40" fill="#053237"/><rect x="-40" y="840" width="40" height="40" fill="#053237"/><rect x="0" y="840" width="40" height="40" fill="#053237"/><rect x="40" y="840" width="40" height="40" fill="#053136"/><rect x="80" y="840" width="40" height="40" fill="#043035"/><rect x="120" y="840" width="40" height="40" fill="#042e34"/><rect x="160" y="840" width="40" height="40" fill="#042d32"/><rect x="200" y="840" width="40" height="40" fill="#042c31"/><rect x="240" y="840" width="40" height="40" fill="#032b30"/><rect x="280" y="840" width="40" height="40" fill="#032b2f"/><rect x="320" y="840" width="40" height="40" fill="#032a2f"/><rect x="360" y="840" width="40" height="40" fill="#032a2e"/><rect x="400" y="840" width="40" height="40" fill="#032a2e"/><rect x="440" y="840" width="40" height="40" fill="#032a2e"/><rect x="480" y="840" width="40" height="40" fill="#032a2d"/><rect x="520" y="840" width="40" height="40" fill="#032a2d"/><rect x="560" y="840" width="40" height="40" fill="#032a2d"/><rect x="600" y="840" width="40" height="40" fill="#032a2d"/><rect x="640" y="840" width="40" height="40" fill="#032b2e"/><rect x="680" y="840" width="40" height="40" fill="#032b2e"/><rect x="720" y="840" width="40" height="40" fill="#032b2e"/><rect x="760" y="840" width="40" height="40" fill="#032c2f"/><rect x="800" y="840" width="40" height="40" fill="#032c2f"/><rect x="840" y="840" width="40" height="40" fill="#032d30"/><rect x="880" y="840" width="40" height="40" fill="#032e31"/><rect x="920" y="840" width="40" height="40" fill="#032f32"/><rect x="960" y="840" width="40" height="40" fill="#033034"/><rect x="1000" y="840" width="40" height="40" fill="#043135"/><rect x="1040" y="840" width="40" height="40" fill="#043337"/><rect x="1080" y="840" width="40" height="40" fill="#043439"/><rect x="1120" y="840" width="40" height="40" fill="#05363b"/><rect x="1160" y="840" width="40" height="40" fill="#05383c"/><rect x="1200" y="840" width="40" height="40" fill="#06393e"/><rect x="1240" y="840" width="40" height="40" fill="#063b3f"/><rect x="1280" y="840" width="40" height="40" fill="#063b3f"/><rect x="1320" y="840" width="40" height="40" fill="#063b3f"/><rect x="1360" y="840" width="40" height="40" fill="#063b3f"/><rect x="1400" y="840" width="40" height="40" fill="#063b3f"/><rect x="1440" y="840" width="40" height="40" fill="#063b3f"/><rect x="1480" y="840" width="40" height="40" fill="#063b3f"/></g>

<!-- arc -->
<path d="M866 336.5 Q1057 186.6 1254 101.9" fill="none" stroke="url(#arcG2)" stroke-width="6" stroke-linecap="round"/>
<path d="M866 336.5 Q1057 186.6 1254 101.9" fill="none" stroke="url(#arcG)" stroke-width="2.8" filter="url(#soft)"/>
<!-- stars -->
<g><circle cx="1047" cy="71" r="4.7" fill="url(#glow)"/><circle cx="1102.5" cy="74.4" r="4.2" fill="url(#glow)"/><circle cx="1130.2" cy="85.4" r="6.8" fill="url(#glow)"/><circle cx="1197.5" cy="79.9" r="8.6" fill="url(#glow)"/><circle cx="1158.1" cy="104" r="6.2" fill="url(#glow)"/><circle cx="1169" cy="125.6" r="3.6" fill="url(#glow)"/><circle cx="1248.4" cy="96" r="3.9" fill="url(#glow)"/><circle cx="1214.4" cy="121.2" r="5.7" fill="url(#glow)"/><circle cx="1236.9" cy="123.8" r="3.6" fill="url(#glow)"/><circle cx="1175.6" cy="146.9" r="3.4" fill="url(#glow)"/><circle cx="1163" cy="158.8" r="3.1" fill="url(#glow)"/><circle cx="1203.8" cy="167.8" r="4.9" fill="url(#glow)"/><circle cx="1221.9" cy="166" r="4.2" fill="url(#glow)"/><circle cx="1189" cy="172.8" r="3.4" fill="url(#glow)"/><circle cx="1163.4" cy="191" r="3.4" fill="url(#glow)"/><circle cx="1204.7" cy="204" r="3.4" fill="url(#glow)"/><circle cx="1173.8" cy="212" r="3.4" fill="url(#glow)"/><circle cx="1124.4" cy="153.8" r="2.6" fill="url(#glow)"/></g>
<filter id="soft" x="900" y="0" width="354" height="400" filterUnits="userSpaceOnUse" color-interpolation-filters="sRGB"><feGaussianBlur stdDeviation="0.7"/></filter>
<g fill="#bdfaff" filter="url(#soft)"><circle cx="1047" cy="71" r="1.8"/><circle cx="1102.5" cy="74.4" r="1.6"/><circle cx="1130.2" cy="85.4" r="2.6"/><circle cx="1197.5" cy="79.9" r="3.3"/><circle cx="1158.1" cy="104" r="2.4"/><circle cx="1169" cy="125.6" r="1.4"/><circle cx="1248.4" cy="96" r="1.5"/><circle cx="1214.4" cy="121.2" r="2.2"/><circle cx="1236.9" cy="123.8" r="1.4"/><circle cx="1175.6" cy="146.9" r="1.3"/><circle cx="1163" cy="158.8" r="1.2"/><circle cx="1203.8" cy="167.8" r="1.9"/><circle cx="1221.9" cy="166" r="1.6"/><circle cx="1189" cy="172.8" r="1.3"/><circle cx="1163.4" cy="191" r="1.3"/><circle cx="1204.7" cy="204" r="1.3"/><circle cx="1173.8" cy="212" r="1.3"/><circle cx="1124.4" cy="153.8" r="1.0"/></g>

<!-- titles -->
<text x="29.6" y="59" font-size="45.8" fill="#ffffff">ESD Junction Capacitance</text>
<text x="986" y="45.3" font-size="38" fill="#f4f6f4" letter-spacing="-0.9" stroke="#0a4146" stroke-width="1.0">ESD Essentials</text>

<!-- thumbs overlay -->
<path d="M1167.5 0 H1254 V58.5 H1170.5 Q1167.5 58.5 1167.5 55.5 Z" fill="#a6a29c" fill-opacity="0.5"/>
<g fill="#eef0ea" fill-opacity="0.6">
  <rect x="1181.2" y="11.6" width="9.2" height="27.4"/>
  <path d="M1195.7 39 V11.5 Q1195.7 8.6 1197.5 7.2 L1204.5 0 H1215 L1213.2 8.9 H1229.5 Q1233 8.9 1233 12.4 V19 L1224.2 39 Z"/>
</g>
<!-- waveform -->
<path d="M320 201.7 H342.8 V164 H377.8 V201.7 H409.3 V164 H444.5 V201.7 H475" fill="none" stroke="#167bc8" stroke-width="6.2" stroke-linecap="round" stroke-linejoin="round"/>
<text x="492.5" y="189.1" font-size="26.6" font-weight="bold" fill="#ffffff">Interface Signal</text>

<!-- HDMI -->
<path d="M316 215.4 H475.8 Q479.8 215.4 479.8 219.4 V248 Q479.8 250 478.2 251.2 L455 268.2 Q453.3 269.5 451 269.5 H342 Q339.8 269.5 338 268.2 L313.7 251.2 Q312.1 250 312.1 248 V219.4 Q312.1 215.4 316 215.4 Z" fill="#3b3735" stroke="#85817e" stroke-width="1.3"/>
<path d="M320 220.3 H473 Q475.4 220.3 475.4 222.7 V246.5 Q475.4 247.7 474.4 248.4 L451.8 264 Q451 264.6 450 264.6 H343 Q342.2 264.6 341.4 264 L318.6 248.2 Q317.6 247.5 317.6 246.3 V222.7 Q317.6 220.3 320 220.3 Z" fill="#e1e0de"/>
<path d="M327 233.5 H465 V241.7 L454 247.5 H340 L327 241.7 Z" fill="#1b1715"/>
<g fill="#1b1715">
  <rect x="335.5" y="228.9" width="8" height="8" rx="1.8"/>
  <rect x="348.1" y="228.9" width="8" height="8" rx="1.8"/>
  <rect x="360.7" y="228.9" width="8" height="8" rx="1.8"/>
  <rect x="373.3" y="228.9" width="8" height="8" rx="1.8"/>
  <rect x="385.9" y="228.9" width="8" height="8" rx="1.8"/>
  <rect x="398.5" y="228.9" width="8" height="8" rx="1.8"/>
  <rect x="411.1" y="228.9" width="8" height="8" rx="1.8"/>
  <rect x="423.7" y="228.9" width="8" height="8" rx="1.8"/>
  <rect x="436.3" y="228.9" width="8" height="8" rx="1.8"/>
  <rect x="448.9" y="228.9" width="8" height="8" rx="1.8"/>
  <rect x="341.5" y="246.4" width="8" height="8" rx="1.8"/>
  <rect x="354.1" y="246.4" width="8" height="8" rx="1.8"/>
  <rect x="366.7" y="246.4" width="8" height="8" rx="1.8"/>
  <rect x="379.3" y="246.4" width="8" height="8" rx="1.8"/>
  <rect x="391.9" y="246.4" width="8" height="8" rx="1.8"/>
  <rect x="404.5" y="246.4" width="8" height="8" rx="1.8"/>
  <rect x="417.1" y="246.4" width="8" height="8" rx="1.8"/>
  <rect x="429.7" y="246.4" width="8" height="8" rx="1.8"/>
  <rect x="442.3" y="246.4" width="8" height="8" rx="1.8"/>
</g>
<g fill="#ffffff">
  <rect x="337.5" y="231" width="4" height="4" rx="1"/>
  <rect x="350.1" y="231" width="4" height="4" rx="1"/>
  <rect x="362.7" y="231" width="4" height="4" rx="1"/>
  <rect x="375.3" y="231" width="4" height="4" rx="1"/>
  <rect x="387.9" y="231" width="4" height="4" rx="1"/>
  <rect x="400.5" y="231" width="4" height="4" rx="1"/>
  <rect x="413.1" y="231" width="4" height="4" rx="1"/>
  <rect x="425.7" y="231" width="4" height="4" rx="1"/>
  <rect x="438.3" y="231" width="4" height="4" rx="1"/>
  <rect x="450.9" y="231" width="4" height="4" rx="1"/>
  <rect x="343.5" y="248.4" width="4" height="4" rx="1"/>
  <rect x="356.1" y="248.4" width="4" height="4" rx="1"/>
  <rect x="368.7" y="248.4" width="4" height="4" rx="1"/>
  <rect x="381.3" y="248.4" width="4" height="4" rx="1"/>
  <rect x="393.9" y="248.4" width="4" height="4" rx="1"/>
  <rect x="406.5" y="248.4" width="4" height="4" rx="1"/>
  <rect x="419.1" y="248.4" width="4" height="4" rx="1"/>
  <rect x="431.7" y="248.4" width="4" height="4" rx="1"/>
  <rect x="444.3" y="248.4" width="4" height="4" rx="1"/>
</g>

<!-- blue wire + arrow -->
<path d="M479 238.2 H903 V280" fill="none" stroke="#167bc8" stroke-width="8.6" stroke-linejoin="miter"/>
<path d="M903.7 294.5 Q897 281 890.2 270.6 Q897 274.5 903.2 278 Q909.5 274.5 915.8 270.6 Q910 281 903.7 294.5 Z" fill="#167bc8"/>

<!-- white line + ground 1 -->
<rect x="587.8" y="242" width="2.5" height="299" fill="#eef2f0"/>
<g stroke="#e8ecea" stroke-width="2.6" stroke-linecap="round">
  <line x1="567.5" y1="541.1" x2="610.2" y2="541.1"/>
  <line x1="574.4" y1="548.1" x2="603.6" y2="548.1"/>
  <line x1="581.4" y1="555" x2="596.4" y2="555"/>
</g>

<!-- protected box -->
<rect x="788.5" y="294.8" width="230.5" height="204.5" fill="none" stroke="#7d9c9d" stroke-width="1.5"/>
<text x="807.5" y="382.2" font-size="40" fill="#ffffff" stroke="#ffffff" stroke-width="0.35" letter-spacing="2.5">Protected</text>
<text x="821" y="438.8" font-size="40" fill="#ffffff" stroke="#ffffff" stroke-width="0.35" letter-spacing="1.9">Circuitry</text>
<rect x="902.6" y="499.5" width="2.5" height="41" fill="#e8ecea"/>
<g stroke="#e8ecea" stroke-width="2.6" stroke-linecap="round">
  <line x1="882.5" y1="540" x2="925" y2="540"/>
  <line x1="889.4" y1="547.1" x2="918" y2="547.1"/>
  <line x1="896.3" y1="554.1" x2="911" y2="554.1"/>
</g>

<!-- N region -->
<rect x="392.6" y="305.8" width="147.4" height="182.2" fill="#a0dde6"/>
<rect x="540" y="305.8" width="49" height="182.2" fill="#a0dde6"/>
<rect x="589" y="305.8" width="197" height="182.2" fill="#fdc9c9"/>

<!-- wire -->
<rect x="337.6" y="394.6" width="55" height="7.4" rx="2" fill="#5a0a12"/>
<rect x="339" y="395.6" width="53.6" height="5" fill="#f8a9b1"/>
<rect x="392.6" y="394.6" width="147.4" height="7.6" fill="#e07080" fill-opacity="0.45"/>
<rect x="637.5" y="394.6" width="150.5" height="7.6" fill="#f07884" fill-opacity="0.6"/>
<rect x="788" y="394.8" width="49.7" height="8.1" fill="#5a0a12"/>
<rect x="788" y="395.6" width="49.7" height="4.6" fill="#f8a9b1"/>

<!-- spheres -->
<g id="electrons">
  <circle cx="421.3" cy="332" r="17.1" fill="url(#elec)"/>
  <circle cx="477.5" cy="342.5" r="17.1" fill="url(#elec)"/>
  <circle cx="422.8" cy="389" r="17.1" fill="url(#elec)"/>
  <circle cx="494.7" cy="385.2" r="17.1" fill="url(#elec)"/>
  <circle cx="457.2" cy="423.5" r="17.1" fill="url(#elec)"/>
  <circle cx="435" cy="461.6" r="17.1" fill="url(#elec)"/>
  <circle cx="504.7" cy="444.7" r="17.1" fill="url(#elec)"/>
</g>
<g fill="#174f55">
  <rect x="418.3" y="333" width="6" height="2.6"/>
  <rect x="474.5" y="343.5" width="6" height="2.6"/>
  <rect x="419.8" y="390" width="6" height="2.6"/>
  <rect x="491.7" y="386.2" width="6" height="2.6"/>
  <rect x="454.2" y="424.5" width="6" height="2.6"/>
  <rect x="432" y="462.6" width="6" height="2.6"/>
  <rect x="501.7" y="445.7" width="6" height="2.6"/>
</g>
<!-- ions in depletion N side -->
<g>
  <circle cx="566.6" cy="329.5" r="17.1" fill="url(#ion)"/>
  <circle cx="566.6" cy="372.4" r="17.1" fill="url(#ion)"/>
  <circle cx="566.6" cy="418.6" r="17.1" fill="url(#ion)"/>
  <circle cx="566.6" cy="464.5" r="17.1" fill="url(#ion)"/>
</g>
<!-- electrons P depletion -->
<g>
  <circle cx="608.8" cy="330.4" r="17.1" fill="url(#elecP)"/>
  <circle cx="608.8" cy="373.5" r="17.1" fill="url(#elecP)"/>
  <circle cx="608.8" cy="419.6" r="17.1" fill="url(#elecP)"/>
  <circle cx="608.8" cy="465.5" r="17.1" fill="url(#elecP)"/>
</g>
<g fill="#2a4f53">
  <rect x="605.4" y="330.8" width="6.8" height="2.8"/>
  <rect x="605.4" y="373.9" width="6.8" height="2.8"/>
  <rect x="605.4" y="420" width="6.8" height="2.8"/>
  <rect x="605.4" y="465.9" width="6.8" height="2.8"/>
</g>
<!-- holes -->
<g>
  <circle cx="677.5" cy="340" r="17" fill="url(#hole)"/>
  <circle cx="750.2" cy="336.2" r="17" fill="url(#hole)"/>
  <circle cx="711.6" cy="372.7" r="17" fill="url(#hole)"/>
  <circle cx="677.5" cy="402.4" r="17" fill="url(#hole)"/>
  <circle cx="747.8" cy="399.4" r="17" fill="url(#hole)"/>
  <circle cx="693.2" cy="454.3" r="17" fill="url(#hole)"/>
  <circle cx="744.2" cy="449.9" r="17" fill="url(#hole)"/>
</g>
<g stroke="#3a4444" stroke-width="2.4" fill="none" id="plus">
  <path d="M560.6 330.5 H572.6 M566.6 324.5 V336.5"/>
  <path d="M560.6 373.4 H572.6 M566.6 367.4 V379.4"/>
  <path d="M560.6 419.6 H572.6 M566.6 413.6 V425.6"/>
  <path d="M560.6 465.5 H572.6 M566.6 459.5 V471.5"/>
  <path d="M671.5 341 H683.5 M677.5 335 V347"/>
  <path d="M744.2 337.2 H756.2 M750.2 331.2 V343.2"/>
  <path d="M705.6 373.7 H717.6 M711.6 367.7 V379.7"/>
  <path d="M671.5 403.4 H683.5 M677.5 397.4 V409.4"/>
  <path d="M741.8 400.4 H753.8 M747.8 394.4 V406.4"/>
  <path d="M687.2 455.3 H699.2 M693.2 449.3 V461.3"/>
  <path d="M738.2 450.9 H750.2 M744.2 444.9 V456.9"/>
</g>

<!-- wire over spheres (translucent) -->
<rect x="392.6" y="394.6" width="147.4" height="7.6" fill="#e07080" fill-opacity="0.25"/>
<rect x="637.5" y="394.6" width="150.5" height="7.6" fill="#f07884" fill-opacity="0.3"/>

<!-- dashed boundaries -->
<rect x="536.2" y="305.8" width="7.6" height="182.2" fill="#e07080" fill-opacity="0.5"/>
<rect x="630.2" y="305.8" width="7.8" height="182.2" fill="#f56f78" fill-opacity="0.6"/>
<path d="M540.3 310.5 V476.8" stroke="#92283a" stroke-width="4.8" stroke-dasharray="16.6 13.3"/>
<path d="M634.8 309.8 V476" stroke="#92283a" stroke-width="4.6" stroke-dasharray="16.6 13.3"/>

<rect x="588" y="305.8" width="2.3" height="182.2" fill="#f4f6f6"/>
<!-- labels -->
<text x="426.8" y="518" font-size="34.3" font-weight="bold" fill="#ffffff">N-type</text>
<text x="646.3" y="519.4" font-size="34.3" font-weight="bold" fill="#ffffff">P-type</text>
</svg>
</body></html>
